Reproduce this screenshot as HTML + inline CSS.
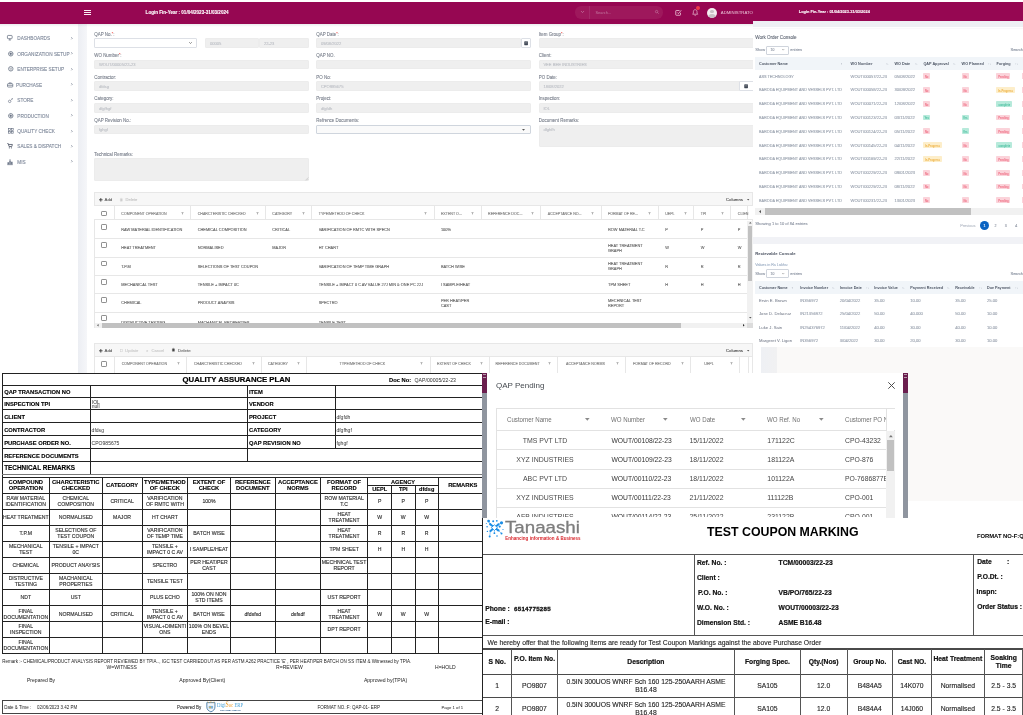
<!DOCTYPE html>
<html><head><meta charset="utf-8"><title>QAP</title><style>
html,body{margin:0;padding:0;background:#fff;}
body{width:1023px;height:715px;position:relative;overflow:hidden;font-family:"Liberation Sans",sans-serif;}
div{position:absolute;box-sizing:border-box;}
#root{left:0;top:0;width:1023px;height:715px;overflow:hidden;will-change:transform;}
.t{white-space:nowrap;}
svg{position:absolute;overflow:visible;}
</style></head><body>
<div id="root">
<div style="left:0px;top:0px;width:753px;height:373px;background:#fff;overflow:hidden;"></div>
<div style="left:0px;top:2px;width:753px;height:21.5px;background:#960752;"></div>
<div style="left:0px;top:23.5px;width:753px;height:3.5px;background:linear-gradient(rgba(60,70,90,0.10),rgba(60,70,90,0));z-index:2;"></div>
<div style="left:78px;top:23.5px;width:9px;height:350px;background:linear-gradient(90deg,#eceef3,#f5f6f9);"></div>
<div style="left:84px;top:10.2px;width:7px;height:0.9px;background:#fbeef4;"></div>
<div style="left:84px;top:12.299999999999999px;width:7px;height:0.9px;background:#fbeef4;"></div>
<div style="left:84px;top:14.399999999999999px;width:7px;height:0.9px;background:#fbeef4;"></div>
<div class="t" style="left:145.6px;top:9px;font-size:4.57px;line-height:8px;color:#fff;font-weight:bold;text-align:left;-webkit-text-stroke:0.1px #fff;">Login Fin-Year : 01/04/2023-31/03/2024</div>
<div style="left:574.8px;top:6.4px;width:88.5px;height:12.4px;background:#9e185c;border-radius:6.2px;"></div>
<div style="left:589.3px;top:6.4px;width:0.6px;height:12.4px;background:#a52a6a;"></div>
<div class="t" style="left:595.5px;top:9px;font-size:3.9px;line-height:8px;color:#c37aa1;font-weight:normal;text-align:left;-webkit-text-stroke:0">Search...</div>
<svg style="left:580.5px;top:11.3px" width="3" height="2" viewBox="0 0 3 2"><path d="M0 0L1.5 1.6L3 0" fill="none" stroke="#c98aad" stroke-width=".6"/></svg>
<svg style="left:654.5px;top:10.3px" width="4" height="4" viewBox="0 0 8 8"><circle cx="3.2" cy="3.2" r="2.4" fill="none" stroke="#c98aad" stroke-width="1"/><path d="M5 5L7.5 7.5" stroke="#c98aad" stroke-width="1"/></svg>
<svg style="left:674.5px;top:9px" width="7" height="7" viewBox="0 0 14 14"><path d="M11 7.5V11.5a1 1 0 0 1-1 1H2.5a1 1 0 0 1-1-1V4a1 1 0 0 1 1-1H9" fill="none" stroke="#e6bbd0" stroke-width="1.7"/><path d="M4.5 7l2.3 2.3L12.5 2.5" fill="none" stroke="#e6bbd0" stroke-width="1.7"/></svg>
<svg style="left:691.800px;top:9px" width="6.400" height="7.300" viewBox="0 0 14 16"><path d="M7 1.5c-2.6 0-4 2-4 4.5v3L1.5 11.5h11L11 9V6c0-2.5-1.4-4.5-4-4.500z" fill="none" stroke="#e6bbd0" stroke-width="1.6"/><path d="M5.5 13.5a1.6 1.6 0 0 0 3 0" fill="none" stroke="#e6bbd0" stroke-width="1.4"/></svg>
<div style="left:695.8px;top:6.2px;width:4px;height:4px;background:#ee3a48;border-radius:50%;"></div>
<div style="left:706.7px;top:7.6px;width:10.8px;height:10.8px;background:#f4eef1;border-radius:50%;overflow:hidden;"><div style="left:3.6px;top:2px;width:3.8px;height:3.8px;border-radius:50%;background:#c9c2c6"></div><div style="left:1.6px;top:6.3px;width:7.8px;height:7px;border-radius:50%;background:#c9c2c6"></div></div>
<div class="t" style="left:720.8px;top:9px;font-size:4.3px;line-height:8px;color:#e9c3d6;font-weight:normal;text-align:left;-webkit-text-stroke:0">ADMINISTRATOR</div>
<div class="t" style="left:17.3px;top:34px;font-size:4.7px;line-height:9px;color:#7d8799;font-weight:normal;text-align:left;-webkit-text-stroke:0.1px #7d8799;">DASHBOARDS</div>
<svg style="left:70.7px;top:37.00px" width="1.700" height="2.600" viewBox="0 0 2 3"><path d="M0.400 0.300L1.500 1.500L0.400 2.700" fill="none" stroke="#6f788a" stroke-width=".85"/></svg>
<svg style="left:7.3px;top:35.40px" width="5.60" height="5.60" viewBox="0 0 10 10"><rect x="0.8" y="0.8" width="8.4" height="5.8" rx="1.2" fill="none" stroke="#616b7e" stroke-width="1.3"/><path d="M3 9h4M5 6.600V9" stroke="#616b7e" stroke-width="1.2"/></svg>
<div class="t" style="left:17.3px;top:50px;font-size:4.7px;line-height:9px;color:#7d8799;font-weight:normal;text-align:left;-webkit-text-stroke:0.1px #7d8799;">ORGANIZATION SETUP</div>
<svg style="left:70.7px;top:52.30px" width="1.700" height="2.600" viewBox="0 0 2 3"><path d="M0.400 0.300L1.500 1.500L0.400 2.700" fill="none" stroke="#6f788a" stroke-width=".85"/></svg>
<svg style="left:7.5px;top:50.80px" width="5.60" height="5.60" viewBox="0 0 10 10"><circle cx="5" cy="5" r="4" fill="none" stroke="#616b7e" stroke-width="1.3"/><circle cx="5" cy="5" r="1.6" fill="#616b7e"/><path d="M5 1v8M1 5h8" stroke="#616b7e" stroke-width=".8"/></svg>
<div class="t" style="left:17.3px;top:65px;font-size:4.7px;line-height:9px;color:#7d8799;font-weight:normal;text-align:left;-webkit-text-stroke:0.1px #7d8799;">ENTERPRISE SETUP</div>
<svg style="left:70.7px;top:67.70px" width="1.700" height="2.600" viewBox="0 0 2 3"><path d="M0.400 0.300L1.500 1.500L0.400 2.700" fill="none" stroke="#6f788a" stroke-width=".85"/></svg>
<svg style="left:7.5px;top:66.20px" width="5.60" height="5.60" viewBox="0 0 10 10"><circle cx="5" cy="5" r="4" fill="none" stroke="#616b7e" stroke-width="1.3"/><path d="M2.500 4h5M3.500 6.500q1.500 1.200 3 0" fill="none" stroke="#616b7e" stroke-width="1"/></svg>
<div class="t" style="left:16px;top:81px;font-size:4.7px;line-height:9px;color:#7d8799;font-weight:normal;text-align:left;-webkit-text-stroke:0.1px #7d8799;">PURCHASE</div>
<svg style="left:70.7px;top:83.30px" width="1.700" height="2.600" viewBox="0 0 2 3"><path d="M0.400 0.300L1.500 1.500L0.400 2.700" fill="none" stroke="#6f788a" stroke-width=".85"/></svg>
<svg style="left:7.3px;top:81.70px" width="6.27" height="5.60" viewBox="0 0 11 10"><rect x="0.8" y="3" width="9.4" height="6" rx="1.2" fill="none" stroke="#616b7e" stroke-width="1.3"/><path d="M3.500 3V1.500h4V3M0.800 6h9.400" fill="none" stroke="#616b7e" stroke-width="1.1"/></svg>
<div class="t" style="left:17.3px;top:96px;font-size:4.7px;line-height:9px;color:#7d8799;font-weight:normal;text-align:left;-webkit-text-stroke:0.1px #7d8799;">STORE</div>
<svg style="left:70.7px;top:98.70px" width="1.700" height="2.600" viewBox="0 0 2 3"><path d="M0.400 0.300L1.500 1.500L0.400 2.700" fill="none" stroke="#6f788a" stroke-width=".85"/></svg>
<svg style="left:7.7px;top:97.50px" width="5.04" height="5.04" viewBox="0 0 9 9"><circle cx="3" cy="6" r="2.2" fill="none" stroke="#616b7e" stroke-width="1.1"/><path d="M5 4L8 1M6.500 1h1.500v1.500" fill="none" stroke="#616b7e" stroke-width="1"/></svg>
<div class="t" style="left:17.3px;top:112px;font-size:4.7px;line-height:9px;color:#7d8799;font-weight:normal;text-align:left;-webkit-text-stroke:0.1px #7d8799;">PRODUCTION</div>
<svg style="left:70.7px;top:114.30px" width="1.700" height="2.600" viewBox="0 0 2 3"><path d="M0.400 0.300L1.500 1.500L0.400 2.700" fill="none" stroke="#6f788a" stroke-width=".85"/></svg>
<svg style="left:7.5px;top:112.80px" width="5.60" height="5.60" viewBox="0 0 10 10"><circle cx="5" cy="5" r="4" fill="none" stroke="#616b7e" stroke-width="1.3"/><circle cx="5" cy="5" r="1.6" fill="#616b7e"/><path d="M5 1v8M1 5h8" stroke="#616b7e" stroke-width=".8"/></svg>
<div class="t" style="left:17.3px;top:127px;font-size:4.7px;line-height:9px;color:#7d8799;font-weight:normal;text-align:left;-webkit-text-stroke:0.1px #7d8799;">QUALITY CHECK</div>
<svg style="left:70.7px;top:129.90px" width="1.700" height="2.600" viewBox="0 0 2 3"><path d="M0.400 0.300L1.500 1.500L0.400 2.700" fill="none" stroke="#6f788a" stroke-width=".85"/></svg>
<svg style="left:7.5px;top:128.40px" width="5.60" height="5.60" viewBox="0 0 10 10"><rect x="0.7" y="0.7" width="3.4" height="3.4" fill="none" stroke="#616b7e" stroke-width="1.1"/><rect x="5.9" y="0.7" width="3.4" height="3.4" fill="none" stroke="#616b7e" stroke-width="1.1"/><rect x="0.7" y="5.9" width="3.4" height="3.400" fill="none" stroke="#616b7e" stroke-width="1.1"/><rect x="5.9" y="5.9" width="3.4" height="3.4" fill="none" stroke="#616b7e" stroke-width="1.1"/></svg>
<div class="t" style="left:17.3px;top:142px;font-size:4.7px;line-height:9px;color:#7d8799;font-weight:normal;text-align:left;-webkit-text-stroke:0.1px #7d8799;">SALES &amp; DISPATCH</div>
<svg style="left:70.7px;top:144.90px" width="1.700" height="2.600" viewBox="0 0 2 3"><path d="M0.400 0.300L1.500 1.500L0.400 2.700" fill="none" stroke="#6f788a" stroke-width=".85"/></svg>
<svg style="left:7.3px;top:143.30px" width="5.82" height="5.82" viewBox="0 0 10 10"><path d="M0.500 1h1.700l1.300 5h4.800l1-3.500H3" fill="none" stroke="#4d5566" stroke-width="1.4"/><circle cx="4" cy="8.300" r="1" fill="#4d5566"/><circle cx="7.500" cy="8.300" r="1" fill="#4d5566"/></svg>
<div class="t" style="left:17.3px;top:158px;font-size:4.7px;line-height:9px;color:#7d8799;font-weight:normal;text-align:left;-webkit-text-stroke:0.1px #7d8799;">MIS</div>
<svg style="left:70.7px;top:160.40px" width="1.700" height="2.600" viewBox="0 0 2 3"><path d="M0.400 0.300L1.500 1.500L0.400 2.700" fill="none" stroke="#6f788a" stroke-width=".85"/></svg>
<svg style="left:7.3px;top:158.60px" width="6.05" height="6.05" viewBox="0 0 10 10"><path d="M2 9V5.500M5 9V2.500M8 9V4.500" fill="none" stroke="#616b7e" stroke-width="2.300"/><path d="M5 0.300v2" stroke="#616b7e" stroke-width="1.200"/><path d="M0.500 9.400h9" stroke="#616b7e" stroke-width="1"/></svg>
<div class="t" style="left:94.3px;top:31px;font-size:4.45px;line-height:8px;color:#7b818d;font-weight:normal;text-align:left;-webkit-text-stroke:0.1px #7b818d;">QAP No.<span style="color:#ee3b34;font-size:3.6px;position:relative;top:-0.9px;-webkit-text-stroke:0.1px #ee3b34">*</span>:</div>
<div style="left:94.3px;top:38.1px;width:103px;height:9.6px;background:#fff;border:0.6px solid #dde0e6;border-radius:1px;"></div>
<svg style="left:188.8px;top:42.10px" width="3" height="2" viewBox="0 0 3 2"><path d="M0.2 0.2L1.5 1.5L2.8 0.2" fill="none" stroke="#444" stroke-width=".6"/></svg>
<div style="left:205.3px;top:38.1px;width:54px;height:9.6px;background:#efefef;border:0.5px solid #ececec;border-radius:1px;"></div>
<div class="t" style="left:209.9px;top:40px;font-size:4.1px;line-height:8px;color:#bcbfc5;font-weight:normal;text-align:left;-webkit-text-stroke:0.1px #bcbfc5;">00005</div>
<div style="left:259.3px;top:38.1px;width:49.5px;height:9.6px;background:#efefef;border:0.5px solid #ececec;border-radius:1px;"></div>
<div class="t" style="left:263.90000000000003px;top:40px;font-size:4.1px;line-height:8px;color:#bcbfc5;font-weight:normal;text-align:left;-webkit-text-stroke:0.1px #bcbfc5;">22-23</div>
<div class="t" style="left:316.3px;top:31px;font-size:4.45px;line-height:8px;color:#7b818d;font-weight:normal;text-align:left;-webkit-text-stroke:0.1px #7b818d;">QAP Date<span style="color:#ee3b34;font-size:3.6px;position:relative;top:-0.9px;-webkit-text-stroke:0.1px #ee3b34">*</span>:</div>
<div style="left:316.3px;top:38.1px;width:204.5px;height:9.6px;background:#efefef;border:0.5px solid #ececec;border-radius:1px;"></div>
<div class="t" style="left:320.90000000000003px;top:40px;font-size:4.1px;line-height:8px;color:#bcbfc5;font-weight:normal;text-align:left;-webkit-text-stroke:0.1px #bcbfc5;">09/08/2022</div>
<div style="left:520.8px;top:38.1px;width:10.5px;height:9.6px;background:#fff;border:0.6px solid #dde0e6;border-radius:1px;"></div>
<svg style="left:523.9px;top:40.7px" width="4.200" height="4.400" viewBox="0 0 9 9.5"><rect x="0.5" y="1.200" width="8" height="8" rx="1" fill="#3f4754"/><path d="M2.500 0v2.200M6.500 0v2.200" stroke="#3f4754" stroke-width="1.200"/><path d="M1.500 4h6" stroke="#fff" stroke-width=".7"/></svg>
<div class="t" style="left:538.8px;top:31px;font-size:4.45px;line-height:8px;color:#7b818d;font-weight:normal;text-align:left;-webkit-text-stroke:0.1px #7b818d;">Item Group<span style="color:#ee3b34;font-size:3.6px;position:relative;top:-0.9px;-webkit-text-stroke:0.1px #ee3b34">*</span>:</div>
<div style="left:538.8px;top:38.1px;width:222.5px;height:9.6px;background:#efefef;border:0.5px solid #ececec;border-radius:1px;"></div>
<div class="t" style="left:94.3px;top:52px;font-size:4.45px;line-height:8px;color:#7b818d;font-weight:normal;text-align:left;-webkit-text-stroke:0.1px #7b818d;">WO Number<span style="color:#ee3b34;font-size:3.6px;position:relative;top:-0.9px;-webkit-text-stroke:0.1px #ee3b34">*</span>:</div>
<div style="left:94.3px;top:59.8px;width:214.5px;height:9.6px;background:#efefef;border:0.5px solid #ececec;border-radius:1px;"></div>
<div class="t" style="left:98.89999999999999px;top:61px;font-size:4.1px;line-height:8px;color:#bcbfc5;font-weight:normal;text-align:left;-webkit-text-stroke:0.1px #bcbfc5;">WOUT/00005/22-23</div>
<div class="t" style="left:316.3px;top:52px;font-size:4.45px;line-height:8px;color:#7b818d;font-weight:normal;text-align:left;-webkit-text-stroke:0.1px #7b818d;">QAP NO.</div>
<div style="left:316.3px;top:59.8px;width:214.5px;height:9.6px;background:#efefef;border:0.5px solid #ececec;border-radius:1px;"></div>
<div class="t" style="left:538.8px;top:52px;font-size:4.45px;line-height:8px;color:#7b818d;font-weight:normal;text-align:left;-webkit-text-stroke:0.1px #7b818d;">Client:</div>
<div style="left:538.8px;top:59.8px;width:222.5px;height:9.6px;background:#efefef;border:0.5px solid #ececec;border-radius:1px;"></div>
<div class="t" style="left:543.4px;top:61px;font-size:4.1px;line-height:8px;color:#bcbfc5;font-weight:normal;text-align:left;-webkit-text-stroke:0.1px #bcbfc5;">VEE BEE INDUSTRIES</div>
<div class="t" style="left:94.3px;top:74px;font-size:4.45px;line-height:8px;color:#7b818d;font-weight:normal;text-align:left;-webkit-text-stroke:0.1px #7b818d;">Contractor:</div>
<div style="left:94.3px;top:81.4px;width:214.5px;height:9.6px;background:#efefef;border:0.5px solid #ececec;border-radius:1px;"></div>
<div class="t" style="left:98.89999999999999px;top:83px;font-size:4.1px;line-height:8px;color:#bcbfc5;font-weight:normal;text-align:left;-webkit-text-stroke:0.1px #bcbfc5;">dfdsg</div>
<div class="t" style="left:316.3px;top:74px;font-size:4.45px;line-height:8px;color:#7b818d;font-weight:normal;text-align:left;-webkit-text-stroke:0.1px #7b818d;">PO No:</div>
<div style="left:316.3px;top:81.4px;width:214.5px;height:9.6px;background:#efefef;border:0.5px solid #ececec;border-radius:1px;"></div>
<div class="t" style="left:320.90000000000003px;top:83px;font-size:4.1px;line-height:8px;color:#bcbfc5;font-weight:normal;text-align:left;-webkit-text-stroke:0.1px #bcbfc5;">CPO985675</div>
<div class="t" style="left:538.8px;top:74px;font-size:4.45px;line-height:8px;color:#7b818d;font-weight:normal;text-align:left;-webkit-text-stroke:0.1px #7b818d;">PO Date:</div>
<div style="left:538.8px;top:81.4px;width:222.5px;height:9.6px;background:#efefef;border:0.5px solid #ececec;border-radius:1px;"></div>
<div class="t" style="left:543.4px;top:83px;font-size:4.1px;line-height:8px;color:#bcbfc5;font-weight:normal;text-align:left;-webkit-text-stroke:0.1px #bcbfc5;">18/08/2022</div>
<div style="left:739.2px;top:81.4px;width:16px;height:9.6px;background:#fff;border:0.6px solid #dde0e6;border-radius:1px;"></div>
<svg style="left:744.3px;top:84.0px" width="4.200" height="4.400" viewBox="0 0 9 9.5"><rect x="0.5" y="1.200" width="8" height="8" rx="1" fill="#3f4754"/><path d="M2.500 0v2.200M6.500 0v2.200" stroke="#3f4754" stroke-width="1.200"/><path d="M1.500 4h6" stroke="#fff" stroke-width=".7"/></svg>
<div class="t" style="left:94.3px;top:95px;font-size:4.45px;line-height:8px;color:#7b818d;font-weight:normal;text-align:left;-webkit-text-stroke:0.1px #7b818d;">Category:</div>
<div style="left:94.3px;top:103px;width:214.5px;height:9.6px;background:#efefef;border:0.5px solid #ececec;border-radius:1px;"></div>
<div class="t" style="left:98.89999999999999px;top:105px;font-size:4.1px;line-height:8px;color:#bcbfc5;font-weight:normal;text-align:left;-webkit-text-stroke:0.1px #bcbfc5;">dfgfhgf</div>
<div class="t" style="left:316.3px;top:95px;font-size:4.45px;line-height:8px;color:#7b818d;font-weight:normal;text-align:left;-webkit-text-stroke:0.1px #7b818d;">Project:</div>
<div style="left:316.3px;top:103px;width:214.5px;height:9.6px;background:#efefef;border:0.5px solid #ececec;border-radius:1px;"></div>
<div class="t" style="left:320.90000000000003px;top:105px;font-size:4.1px;line-height:8px;color:#bcbfc5;font-weight:normal;text-align:left;-webkit-text-stroke:0.1px #bcbfc5;">dfgfdh</div>
<div class="t" style="left:538.8px;top:95px;font-size:4.45px;line-height:8px;color:#7b818d;font-weight:normal;text-align:left;-webkit-text-stroke:0.1px #7b818d;">Inspection:</div>
<div style="left:538.8px;top:103px;width:222.5px;height:9.6px;background:#efefef;border:0.5px solid #ececec;border-radius:1px;"></div>
<div class="t" style="left:543.4px;top:105px;font-size:4.1px;line-height:8px;color:#bcbfc5;font-weight:normal;text-align:left;-webkit-text-stroke:0.1px #bcbfc5;">IOL</div>
<div class="t" style="left:94.3px;top:117px;font-size:4.45px;line-height:8px;color:#7b818d;font-weight:normal;text-align:left;-webkit-text-stroke:0.1px #7b818d;">QAP Revision No.:</div>
<div style="left:94.3px;top:124.6px;width:214.5px;height:9.6px;background:#efefef;border:0.5px solid #ececec;border-radius:1px;"></div>
<div class="t" style="left:98.89999999999999px;top:126px;font-size:4.1px;line-height:8px;color:#bcbfc5;font-weight:normal;text-align:left;-webkit-text-stroke:0.1px #bcbfc5;">fghgf</div>
<div class="t" style="left:316.3px;top:117px;font-size:4.45px;line-height:8px;color:#7b818d;font-weight:normal;text-align:left;-webkit-text-stroke:0.1px #7b818d;">Refrence Documents:</div>
<div style="left:316.3px;top:124.6px;width:214.5px;height:9.6px;background:#fafafa;border:0.6px solid #cfd5dd;border-radius:1px;"></div>
<svg style="left:521.8px;top:128.70px" width="3" height="1.800" viewBox="0 0 3 1.8"><path d="M0 0h3L1.500 1.800z" fill="#555"/></svg>
<div class="t" style="left:538.8px;top:117px;font-size:4.45px;line-height:8px;color:#7b818d;font-weight:normal;text-align:left;-webkit-text-stroke:0.1px #7b818d;">Document Remarks:</div>
<div style="left:538.8px;top:124.6px;width:222.5px;height:22.2px;background:#efefef;border:0.5px solid #ececec;border-radius:1px;"></div>
<div class="t" style="left:543.4px;top:126px;font-size:4.1px;line-height:8px;color:#bcbfc5;font-weight:normal;text-align:left;-webkit-text-stroke:0.1px #bcbfc5;">dfghfh</div>
<div class="t" style="left:94.3px;top:151px;font-size:4.45px;line-height:8px;color:#7b818d;font-weight:normal;text-align:left;-webkit-text-stroke:0.1px #7b818d;">Technical Remarks:</div>
<div style="left:94.3px;top:158.2px;width:214.5px;height:22.5px;background:#efefef;border:0.5px solid #ececec;border-radius:1px;"></div>
<svg style="left:304.6px;top:176.500px" width="3.4" height="3.4" viewBox="0 0 4 4"><path d="M0.500 4L4 0.500M2.300 4L4 2.300" stroke="#aaa" stroke-width=".5"/></svg>
<div style="left:94.3px;top:192.3px;width:658.7px;height:136.2px;background:#fff;border:0.6px solid #e7e7e7;"></div>
<div style="left:94.3px;top:192.3px;width:658.7px;height:14px;background:#f7f7f7;border:0.6px solid #e7e7e7;"></div>
<svg style="left:98.600px;top:197.600px" width="3.6" height="3.600" viewBox="0 0 6 6"><path d="M3 0v6M0 3h6" stroke="#333" stroke-width="1.400"/></svg>
<div class="t" style="left:104.5px;top:196px;font-size:4.4px;line-height:8px;color:#3a3a3a;font-weight:normal;text-align:left;-webkit-text-stroke:0">Add</div>
<svg style="left:120px;top:197.700px" width="2.600" height="3.400" viewBox="0 0 5 7"><path d="M0.500 1.500h4v5h-4zM1.500 0.500h2" fill="#cfcfcf" stroke="#cfcfcf" stroke-width=".6"/></svg>
<div class="t" style="left:125.5px;top:196px;font-size:4.1px;line-height:8px;color:#c4c4c4;font-weight:normal;text-align:left;-webkit-text-stroke:0.1px #c4c4c4;">Delete</div>
<div class="t" style="left:726px;top:196px;font-size:4.3px;line-height:8px;color:#444;font-weight:normal;text-align:left;-webkit-text-stroke:0.1px #444;">Columns</div>
<svg style="left:746.500px;top:199px" width="2.400" height="1.500" viewBox="0 0 3 1.8"><path d="M0 0h3L1.500 1.800z" fill="#555"/></svg>
<div style="left:94.3px;top:206.3px;width:658.7px;height:14.199999999999989px;background:#fff;border-bottom:0.6px solid #e7e7e7;"></div>
<div style="left:113.9px;top:206.3px;width:0.6px;height:14.199999999999989px;background:#e7e7e7;"></div>
<div style="left:190.29999999999998px;top:206.3px;width:0.6px;height:14.199999999999989px;background:#e7e7e7;"></div>
<div style="left:264.9px;top:206.3px;width:0.6px;height:14.199999999999989px;background:#e7e7e7;"></div>
<div style="left:311.3px;top:206.3px;width:0.6px;height:14.199999999999989px;background:#e7e7e7;"></div>
<div style="left:433.5px;top:206.3px;width:0.6px;height:14.199999999999989px;background:#e7e7e7;"></div>
<div style="left:480.7px;top:206.3px;width:0.6px;height:14.199999999999989px;background:#e7e7e7;"></div>
<div style="left:540.4000000000001px;top:206.3px;width:0.6px;height:14.199999999999989px;background:#e7e7e7;"></div>
<div style="left:600.6px;top:206.3px;width:0.6px;height:14.199999999999989px;background:#e7e7e7;"></div>
<div style="left:657.8000000000001px;top:206.3px;width:0.6px;height:14.199999999999989px;background:#e7e7e7;"></div>
<div style="left:693.3000000000001px;top:206.3px;width:0.6px;height:14.199999999999989px;background:#e7e7e7;"></div>
<div style="left:730.4000000000001px;top:206.3px;width:0.6px;height:14.199999999999989px;background:#e7e7e7;"></div>
<div style="left:747.0px;top:206.3px;width:0.6px;height:14.199999999999989px;background:#e7e7e7;"></div>
<div style="left:101.2px;top:210.55px;width:5.9px;height:5.9px;border:0.7px solid #8f8f8f;border-radius:1.1px;background:#fff;"></div>
<div class="t" style="left:121.3px;top:211px;font-size:3.62px;line-height:7px;color:#7a7a7a;font-weight:normal;text-align:left;-webkit-text-stroke:0.1px #7a7a7a;">COMPONENT OPERATION</div>
<svg style="left:180.9px;top:212.10px" width="3" height="3" viewBox="0 0 6 6"><path d="M0.300 0.500h5.400L3.700 3v2.500L2.300 4.700V3z" fill="#a2a2a2"/></svg>
<div class="t" style="left:197.7px;top:211px;font-size:3.62px;line-height:7px;color:#7a7a7a;font-weight:normal;text-align:left;-webkit-text-stroke:0.1px #7a7a7a;">CHARCTERISTIC CHECKED</div>
<svg style="left:255.5px;top:212.10px" width="3" height="3" viewBox="0 0 6 6"><path d="M0.300 0.500h5.400L3.700 3v2.500L2.300 4.700V3z" fill="#a2a2a2"/></svg>
<div class="t" style="left:272.3px;top:211px;font-size:3.62px;line-height:7px;color:#7a7a7a;font-weight:normal;text-align:left;-webkit-text-stroke:0.1px #7a7a7a;">CATEGORY</div>
<svg style="left:301.90000000000003px;top:212.10px" width="3" height="3" viewBox="0 0 6 6"><path d="M0.300 0.500h5.400L3.700 3v2.500L2.300 4.700V3z" fill="#a2a2a2"/></svg>
<div class="t" style="left:318.70000000000005px;top:211px;font-size:3.62px;line-height:7px;color:#7a7a7a;font-weight:normal;text-align:left;-webkit-text-stroke:0.1px #7a7a7a;">TYPE/METHOD OF CHECK</div>
<svg style="left:424.1px;top:212.10px" width="3" height="3" viewBox="0 0 6 6"><path d="M0.300 0.500h5.400L3.700 3v2.500L2.300 4.700V3z" fill="#a2a2a2"/></svg>
<div class="t" style="left:440.90000000000003px;top:211px;font-size:3.62px;line-height:7px;color:#7a7a7a;font-weight:normal;text-align:left;-webkit-text-stroke:0.1px #7a7a7a;">EXTENT O...</div>
<svg style="left:471.3px;top:212.10px" width="3" height="3" viewBox="0 0 6 6"><path d="M0.300 0.500h5.400L3.700 3v2.500L2.300 4.700V3z" fill="#a2a2a2"/></svg>
<div class="t" style="left:488.1px;top:211px;font-size:3.62px;line-height:7px;color:#7a7a7a;font-weight:normal;text-align:left;-webkit-text-stroke:0.1px #7a7a7a;">REFERENCE DOC...</div>
<svg style="left:531.0px;top:212.10px" width="3" height="3" viewBox="0 0 6 6"><path d="M0.300 0.500h5.400L3.700 3v2.500L2.300 4.700V3z" fill="#a2a2a2"/></svg>
<div class="t" style="left:547.8000000000001px;top:211px;font-size:3.62px;line-height:7px;color:#7a7a7a;font-weight:normal;text-align:left;-webkit-text-stroke:0.1px #7a7a7a;">ACCEPTANCE NO...</div>
<svg style="left:591.1999999999999px;top:212.10px" width="3" height="3" viewBox="0 0 6 6"><path d="M0.300 0.500h5.400L3.700 3v2.500L2.300 4.700V3z" fill="#a2a2a2"/></svg>
<div class="t" style="left:608.0px;top:211px;font-size:3.62px;line-height:7px;color:#7a7a7a;font-weight:normal;text-align:left;-webkit-text-stroke:0.1px #7a7a7a;">FORMAT OF RE...</div>
<svg style="left:648.4px;top:212.10px" width="3" height="3" viewBox="0 0 6 6"><path d="M0.300 0.500h5.400L3.700 3v2.500L2.300 4.700V3z" fill="#a2a2a2"/></svg>
<div class="t" style="left:665.2px;top:211px;font-size:3.62px;line-height:7px;color:#7a7a7a;font-weight:normal;text-align:left;-webkit-text-stroke:0.1px #7a7a7a;">UEPL</div>
<svg style="left:683.9px;top:212.10px" width="3" height="3" viewBox="0 0 6 6"><path d="M0.300 0.500h5.400L3.700 3v2.500L2.300 4.700V3z" fill="#a2a2a2"/></svg>
<div class="t" style="left:700.7px;top:211px;font-size:3.62px;line-height:7px;color:#7a7a7a;font-weight:normal;text-align:left;-webkit-text-stroke:0.1px #7a7a7a;">TPI</div>
<svg style="left:721.0px;top:212.10px" width="3" height="3" viewBox="0 0 6 6"><path d="M0.300 0.500h5.400L3.700 3v2.500L2.300 4.700V3z" fill="#a2a2a2"/></svg>
<div class="t" style="left:737.8000000000001px;top:211px;font-size:3.62px;line-height:7px;color:#7a7a7a;font-weight:normal;text-align:left;-webkit-text-stroke:0.1px #7a7a7a;">CLIEN</div>
<div style="left:0;top:220px;width:747.3px;height:102.60000000000002px;overflow:hidden;">
<div style="left:94.3px;top:18.299999999999994px;width:653.0px;height:0.6px;background:#e7e7e7;"></div>
<div style="left:101.2px;top:4.05px;width:5.9px;height:5.9px;border:0.7px solid #8f8f8f;border-radius:1.1px;background:#fff;"></div>
<div class="t" style="left:121.3px;top:6px;font-size:3.92px;line-height:8px;color:#5f5f5f;font-weight:normal;text-align:left;-webkit-text-stroke:0.1px #5f5f5f;">RAW MATERIAL IDENTIFICATION</div>
<div class="t" style="left:197.7px;top:6px;font-size:3.92px;line-height:8px;color:#5f5f5f;font-weight:normal;text-align:left;-webkit-text-stroke:0.1px #5f5f5f;">CHEMICAL COMPOSITION</div>
<div class="t" style="left:272.3px;top:6px;font-size:3.92px;line-height:8px;color:#5f5f5f;font-weight:normal;text-align:left;-webkit-text-stroke:0.1px #5f5f5f;">CRITICAL</div>
<div style="left:318.70000000000005px;top:5px;width:114.09999999999997px;height:9px;overflow:hidden;">
<div class="t" style="left:0px;top:1px;font-size:3.92px;line-height:8px;color:#5f5f5f;font-weight:normal;text-align:left;-webkit-text-stroke:0.1px #5f5f5f;">VARIFICATION OF RMTC WITH SPECN</div>
</div>
<div class="t" style="left:440.90000000000003px;top:6px;font-size:3.92px;line-height:8px;color:#5f5f5f;font-weight:normal;text-align:left;-webkit-text-stroke:0.1px #5f5f5f;">100%</div>
<div class="t" style="left:608.0px;top:6px;font-size:3.92px;line-height:8px;color:#5f5f5f;font-weight:normal;text-align:left;-webkit-text-stroke:0.1px #5f5f5f;">ROW MATERIAL T.C</div>
<div class="t" style="left:665.2px;top:6px;font-size:3.92px;line-height:8px;color:#5f5f5f;font-weight:normal;text-align:left;-webkit-text-stroke:0.1px #5f5f5f;">P</div>
<div class="t" style="left:700.7px;top:6px;font-size:3.92px;line-height:8px;color:#5f5f5f;font-weight:normal;text-align:left;-webkit-text-stroke:0.1px #5f5f5f;">P</div>
<div class="t" style="left:737.8000000000001px;top:6px;font-size:3.92px;line-height:8px;color:#5f5f5f;font-weight:normal;text-align:left;-webkit-text-stroke:0.1px #5f5f5f;">P</div>
<div style="left:94.3px;top:36.7px;width:653.0px;height:0.6px;background:#e7e7e7;"></div>
<div style="left:101.2px;top:22.149999999999995px;width:5.9px;height:5.9px;border:0.7px solid #8f8f8f;border-radius:1.1px;background:#fff;"></div>
<div class="t" style="left:121.3px;top:24px;font-size:3.92px;line-height:8px;color:#5f5f5f;font-weight:normal;text-align:left;-webkit-text-stroke:0.1px #5f5f5f;">HEAT TREATMENT</div>
<div class="t" style="left:197.7px;top:24px;font-size:3.92px;line-height:8px;color:#5f5f5f;font-weight:normal;text-align:left;-webkit-text-stroke:0.1px #5f5f5f;">NORMALISED</div>
<div class="t" style="left:272.3px;top:24px;font-size:3.92px;line-height:8px;color:#5f5f5f;font-weight:normal;text-align:left;-webkit-text-stroke:0.1px #5f5f5f;">MAJOR</div>
<div style="left:318.70000000000005px;top:23px;width:114.09999999999997px;height:9px;overflow:hidden;">
<div class="t" style="left:0px;top:1px;font-size:3.92px;line-height:8px;color:#5f5f5f;font-weight:normal;text-align:left;-webkit-text-stroke:0.1px #5f5f5f;">HT CHART</div>
</div>
<div class="t" style="left:608.0px;top:22px;font-size:3.92px;line-height:8px;color:#5f5f5f;font-weight:normal;text-align:left;-webkit-text-stroke:0.1px #5f5f5f;">HEAT TREATMENT</div>
<div class="t" style="left:608.0px;top:27px;font-size:3.92px;line-height:8px;color:#5f5f5f;font-weight:normal;text-align:left;-webkit-text-stroke:0.1px #5f5f5f;">GRAPH</div>
<div class="t" style="left:665.2px;top:24px;font-size:3.92px;line-height:8px;color:#5f5f5f;font-weight:normal;text-align:left;-webkit-text-stroke:0.1px #5f5f5f;">W</div>
<div class="t" style="left:700.7px;top:24px;font-size:3.92px;line-height:8px;color:#5f5f5f;font-weight:normal;text-align:left;-webkit-text-stroke:0.1px #5f5f5f;">W</div>
<div class="t" style="left:737.8000000000001px;top:24px;font-size:3.92px;line-height:8px;color:#5f5f5f;font-weight:normal;text-align:left;-webkit-text-stroke:0.1px #5f5f5f;">W</div>
<div style="left:94.3px;top:55.000000000000014px;width:653.0px;height:0.6px;background:#e7e7e7;"></div>
<div style="left:101.2px;top:40.55px;width:5.9px;height:5.9px;border:0.7px solid #8f8f8f;border-radius:1.1px;background:#fff;"></div>
<div class="t" style="left:121.3px;top:43px;font-size:3.92px;line-height:8px;color:#5f5f5f;font-weight:normal;text-align:left;-webkit-text-stroke:0.1px #5f5f5f;">T.P.M</div>
<div class="t" style="left:197.7px;top:43px;font-size:3.92px;line-height:8px;color:#5f5f5f;font-weight:normal;text-align:left;-webkit-text-stroke:0.1px #5f5f5f;">SELECTIONS OF TEST COUPON</div>
<div style="left:318.70000000000005px;top:42px;width:114.09999999999997px;height:9px;overflow:hidden;">
<div class="t" style="left:0px;top:1px;font-size:3.92px;line-height:8px;color:#5f5f5f;font-weight:normal;text-align:left;-webkit-text-stroke:0.1px #5f5f5f;">VARIFICATION OF TEMP TIME GRAPH</div>
</div>
<div class="t" style="left:440.90000000000003px;top:43px;font-size:3.92px;line-height:8px;color:#5f5f5f;font-weight:normal;text-align:left;-webkit-text-stroke:0.1px #5f5f5f;">BATCH WISE</div>
<div class="t" style="left:608.0px;top:40px;font-size:3.92px;line-height:8px;color:#5f5f5f;font-weight:normal;text-align:left;-webkit-text-stroke:0.1px #5f5f5f;">HEAT TREATMENT</div>
<div class="t" style="left:608.0px;top:45px;font-size:3.92px;line-height:8px;color:#5f5f5f;font-weight:normal;text-align:left;-webkit-text-stroke:0.1px #5f5f5f;">GRAPH</div>
<div class="t" style="left:665.2px;top:43px;font-size:3.92px;line-height:8px;color:#5f5f5f;font-weight:normal;text-align:left;-webkit-text-stroke:0.1px #5f5f5f;">R</div>
<div class="t" style="left:700.7px;top:43px;font-size:3.92px;line-height:8px;color:#5f5f5f;font-weight:normal;text-align:left;-webkit-text-stroke:0.1px #5f5f5f;">R</div>
<div class="t" style="left:737.8000000000001px;top:43px;font-size:3.92px;line-height:8px;color:#5f5f5f;font-weight:normal;text-align:left;-webkit-text-stroke:0.1px #5f5f5f;">R</div>
<div style="left:94.3px;top:73.30000000000003px;width:653.0px;height:0.6px;background:#e7e7e7;"></div>
<div style="left:101.2px;top:58.85000000000001px;width:5.9px;height:5.9px;border:0.7px solid #8f8f8f;border-radius:1.1px;background:#fff;"></div>
<div class="t" style="left:121.3px;top:61px;font-size:3.92px;line-height:8px;color:#5f5f5f;font-weight:normal;text-align:left;-webkit-text-stroke:0.1px #5f5f5f;">MECHANICAL TEST</div>
<div class="t" style="left:197.7px;top:61px;font-size:3.92px;line-height:8px;color:#5f5f5f;font-weight:normal;text-align:left;-webkit-text-stroke:0.1px #5f5f5f;">TENSILE + IMPACT 0C</div>
<div style="left:318.70000000000005px;top:60px;width:114.09999999999997px;height:9px;overflow:hidden;">
<div class="t" style="left:0px;top:1px;font-size:3.92px;line-height:8px;color:#5f5f5f;font-weight:normal;text-align:left;-webkit-text-stroke:0.1px #5f5f5f;">TENSILE + IMPACT 0 C AV VALUE 27J MIN &amp; ONE PC 22J</div>
</div>
<div class="t" style="left:440.90000000000003px;top:61px;font-size:3.92px;line-height:8px;color:#5f5f5f;font-weight:normal;text-align:left;-webkit-text-stroke:0.1px #5f5f5f;">I SAMPLE/HEAT</div>
<div class="t" style="left:608.0px;top:61px;font-size:3.92px;line-height:8px;color:#5f5f5f;font-weight:normal;text-align:left;-webkit-text-stroke:0.1px #5f5f5f;">TPM SHEET</div>
<div class="t" style="left:665.2px;top:61px;font-size:3.92px;line-height:8px;color:#5f5f5f;font-weight:normal;text-align:left;-webkit-text-stroke:0.1px #5f5f5f;">H</div>
<div class="t" style="left:700.7px;top:61px;font-size:3.92px;line-height:8px;color:#5f5f5f;font-weight:normal;text-align:left;-webkit-text-stroke:0.1px #5f5f5f;">H</div>
<div class="t" style="left:737.8000000000001px;top:61px;font-size:3.92px;line-height:8px;color:#5f5f5f;font-weight:normal;text-align:left;-webkit-text-stroke:0.1px #5f5f5f;">H</div>
<div style="left:94.3px;top:91.59999999999998px;width:653.0px;height:0.6px;background:#e7e7e7;"></div>
<div style="left:101.2px;top:77.15000000000002px;width:5.9px;height:5.9px;border:0.7px solid #8f8f8f;border-radius:1.1px;background:#fff;"></div>
<div class="t" style="left:121.3px;top:79px;font-size:3.92px;line-height:8px;color:#5f5f5f;font-weight:normal;text-align:left;-webkit-text-stroke:0.1px #5f5f5f;">CHEMICAL</div>
<div class="t" style="left:197.7px;top:79px;font-size:3.92px;line-height:8px;color:#5f5f5f;font-weight:normal;text-align:left;-webkit-text-stroke:0.1px #5f5f5f;">PRODUCT ANAYSIS</div>
<div style="left:318.70000000000005px;top:78px;width:114.09999999999997px;height:9px;overflow:hidden;">
<div class="t" style="left:0px;top:1px;font-size:3.92px;line-height:8px;color:#5f5f5f;font-weight:normal;text-align:left;-webkit-text-stroke:0.1px #5f5f5f;">SPECTRO</div>
</div>
<div class="t" style="left:440.90000000000003px;top:77px;font-size:3.92px;line-height:8px;color:#5f5f5f;font-weight:normal;text-align:left;-webkit-text-stroke:0.1px #5f5f5f;">PER HEAT/PER</div>
<div class="t" style="left:440.90000000000003px;top:82px;font-size:3.92px;line-height:8px;color:#5f5f5f;font-weight:normal;text-align:left;-webkit-text-stroke:0.1px #5f5f5f;">CAST</div>
<div class="t" style="left:608.0px;top:77px;font-size:3.92px;line-height:8px;color:#5f5f5f;font-weight:normal;text-align:left;-webkit-text-stroke:0.1px #5f5f5f;">MECHNICAL TEST</div>
<div class="t" style="left:608.0px;top:82px;font-size:3.92px;line-height:8px;color:#5f5f5f;font-weight:normal;text-align:left;-webkit-text-stroke:0.1px #5f5f5f;">REPORT</div>
<div style="left:94.3px;top:112.09999999999998px;width:653.0px;height:0.6px;background:#e7e7e7;"></div>
<div style="left:101.2px;top:95.44999999999997px;width:5.9px;height:5.9px;border:0.7px solid #8f8f8f;border-radius:1.1px;background:#fff;"></div>
<div class="t" style="left:121.3px;top:99px;font-size:3.92px;line-height:8px;color:#5f5f5f;font-weight:normal;text-align:left;-webkit-text-stroke:0.1px #5f5f5f;">DISTRUCTIVE TESTING</div>
<div class="t" style="left:197.7px;top:99px;font-size:3.92px;line-height:8px;color:#5f5f5f;font-weight:normal;text-align:left;-webkit-text-stroke:0.1px #5f5f5f;">MACHANICAL PROPERTIES</div>
<div style="left:318.70000000000005px;top:98px;width:114.09999999999997px;height:9px;overflow:hidden;">
<div class="t" style="left:0px;top:1px;font-size:3.92px;line-height:8px;color:#5f5f5f;font-weight:normal;text-align:left;-webkit-text-stroke:0.1px #5f5f5f;">TENSILE TEST</div>
</div>
</div>
<div style="left:747.3px;top:220.5px;width:5.4px;height:102.1px;background:#f1f1f1;"></div>
<div style="left:748px;top:225.8px;width:4px;height:55px;background:#c1c1c1;"></div>
<svg style="left:748.600px;top:221.800px" width="2.600" height="1.500" viewBox="0 0 3 1.8"><path d="M0 1.800h3L1.500 0z" fill="#555"/></svg>
<svg style="left:748.600px;top:317px" width="2.600" height="1.500" viewBox="0 0 3 1.8"><path d="M0 0h3L1.500 1.800z" fill="#555"/></svg>
<div style="left:94.89999999999999px;top:322.6px;width:657.5px;height:5.6px;background:#f1f1f1;"></div>
<div style="left:101.5px;top:323px;width:579px;height:4.8px;background:#c1c1c1;"></div>
<svg style="left:97px;top:324.100px" width="1.600" height="2.600" viewBox="0 0 1.8 3"><path d="M1.800 0v3L0 1.500z" fill="#555"/></svg>
<svg style="left:742.500px;top:324.100px" width="1.600" height="2.600" viewBox="0 0 1.8 3"><path d="M0 0v3L1.800 1.500z" fill="#222"/></svg>
<div style="left:747.3px;top:322.6px;width:5.4px;height:5.6px;background:#dcdcdc;"></div>
<div style="left:94.3px;top:343.2px;width:658.7px;height:40px;background:#fff;border:0.6px solid #e7e7e7;"></div>
<div style="left:94.3px;top:343.2px;width:658.7px;height:14px;background:#f7f7f7;border:0.6px solid #e7e7e7;"></div>
<svg style="left:98.600px;top:348.500px" width="3.600" height="3.600" viewBox="0 0 6 6"><path d="M3 0v6M0 3h6" stroke="#333" stroke-width="1.400"/></svg>
<div class="t" style="left:104.5px;top:347px;font-size:4.4px;line-height:8px;color:#3a3a3a;font-weight:normal;text-align:left;-webkit-text-stroke:0">Add</div>
<div class="t" style="left:125px;top:347px;font-size:4.1px;line-height:8px;color:#c9c9c9;font-weight:normal;text-align:left;-webkit-text-stroke:0.1px #c9c9c9;">Update</div>
<svg style="left:119.500px;top:348.800px" width="3" height="3.200" viewBox="0 0 5 5"><rect x="0.500" y="0.500" width="4" height="4" fill="none" stroke="#cfcfcf" stroke-width=".8"/></svg>
<div class="t" style="left:146px;top:348px;font-size:3.4px;line-height:7px;color:#c9c9c9;font-weight:normal;text-align:left;-webkit-text-stroke:0.1px #c9c9c9;">✕</div>
<div class="t" style="left:151.5px;top:347px;font-size:4.1px;line-height:8px;color:#c9c9c9;font-weight:normal;text-align:left;-webkit-text-stroke:0.1px #c9c9c9;">Cancel</div>
<svg style="left:172.300px;top:348.400px" width="2.800" height="3.600" viewBox="0 0 5 7"><path d="M0.500 1.500h4v5h-4zM1.500 0.500h2" fill="#444" stroke="#444" stroke-width=".6"/></svg>
<div class="t" style="left:178px;top:347px;font-size:4.4px;line-height:8px;color:#3a3a3a;font-weight:normal;text-align:left;-webkit-text-stroke:0">Delete</div>
<div class="t" style="left:726px;top:347px;font-size:4.3px;line-height:8px;color:#444;font-weight:normal;text-align:left;-webkit-text-stroke:0.1px #444;">Columns</div>
<svg style="left:746.500px;top:349.900px" width="2.400" height="1.500" viewBox="0 0 3 1.8"><path d="M0 0h3L1.500 1.800z" fill="#555"/></svg>
<div style="left:113.60000000000001px;top:357.2px;width:0.6px;height:15.400000000000034px;background:#e7e7e7;"></div>
<div style="left:186.2px;top:357.2px;width:0.6px;height:15.400000000000034px;background:#e7e7e7;"></div>
<div style="left:260.8px;top:357.2px;width:0.6px;height:15.400000000000034px;background:#e7e7e7;"></div>
<div style="left:306.2px;top:357.2px;width:0.6px;height:15.400000000000034px;background:#e7e7e7;"></div>
<div style="left:429.59999999999997px;top:357.2px;width:0.6px;height:15.400000000000034px;background:#e7e7e7;"></div>
<div style="left:489.4px;top:357.2px;width:0.6px;height:15.400000000000034px;background:#e7e7e7;"></div>
<div style="left:557.0px;top:357.2px;width:0.6px;height:15.400000000000034px;background:#e7e7e7;"></div>
<div style="left:624.9000000000001px;top:357.2px;width:0.6px;height:15.400000000000034px;background:#e7e7e7;"></div>
<div style="left:690.0px;top:357.2px;width:0.6px;height:15.400000000000034px;background:#e7e7e7;"></div>
<div style="left:739.2px;top:357.2px;width:0.6px;height:15.400000000000034px;background:#e7e7e7;"></div>
<div style="left:748.0px;top:357.2px;width:0.6px;height:15.400000000000034px;background:#e7e7e7;"></div>
<div style="left:101.2px;top:360.65000000000003px;width:5.9px;height:5.9px;border:0.7px solid #8f8f8f;border-radius:1.1px;background:#fff;"></div>
<div class="t" style="left:113.9px;top:361px;width:60.89999999999999px;font-size:3.62px;line-height:7px;color:#7a7a7a;font-weight:normal;text-align:center;-webkit-text-stroke:0.1px #7a7a7a;">COMPONENT OPERATION</div>
<svg style="left:176.9px;top:362.20px" width="3" height="3" viewBox="0 0 6 6"><path d="M0.300 0.500h5.400L3.700 3v2.500L2.300 4.700V3z" fill="#a2a2a2"/></svg>
<div class="t" style="left:186.5px;top:361px;width:62.90000000000002px;font-size:3.62px;line-height:7px;color:#7a7a7a;font-weight:normal;text-align:center;-webkit-text-stroke:0.1px #7a7a7a;">CHARCTERISTIC CHECKED</div>
<svg style="left:251.50000000000003px;top:362.20px" width="3" height="3" viewBox="0 0 6 6"><path d="M0.300 0.500h5.400L3.700 3v2.500L2.300 4.700V3z" fill="#a2a2a2"/></svg>
<div class="t" style="left:261.1px;top:361px;width:33.699999999999974px;font-size:3.62px;line-height:7px;color:#7a7a7a;font-weight:normal;text-align:center;-webkit-text-stroke:0.1px #7a7a7a;">CATEGORY</div>
<svg style="left:296.9px;top:362.20px" width="3" height="3" viewBox="0 0 6 6"><path d="M0.300 0.500h5.400L3.700 3v2.500L2.300 4.700V3z" fill="#a2a2a2"/></svg>
<div class="t" style="left:306.5px;top:361px;width:111.69999999999997px;font-size:3.62px;line-height:7px;color:#7a7a7a;font-weight:normal;text-align:center;-webkit-text-stroke:0.1px #7a7a7a;">TYPE/METHOD OF CHECK</div>
<svg style="left:420.29999999999995px;top:362.20px" width="3" height="3" viewBox="0 0 6 6"><path d="M0.300 0.500h5.400L3.700 3v2.500L2.300 4.700V3z" fill="#a2a2a2"/></svg>
<div class="t" style="left:429.9px;top:361px;width:48.10000000000001px;font-size:3.62px;line-height:7px;color:#7a7a7a;font-weight:normal;text-align:center;-webkit-text-stroke:0.1px #7a7a7a;">EXTENT OF CHECK</div>
<svg style="left:480.09999999999997px;top:362.20px" width="3" height="3" viewBox="0 0 6 6"><path d="M0.300 0.500h5.400L3.700 3v2.500L2.300 4.700V3z" fill="#a2a2a2"/></svg>
<div class="t" style="left:489.7px;top:361px;width:55.89999999999996px;font-size:3.62px;line-height:7px;color:#7a7a7a;font-weight:normal;text-align:center;-webkit-text-stroke:0.1px #7a7a7a;">REFERENCE DOCUMENT</div>
<svg style="left:547.6999999999999px;top:362.20px" width="3" height="3" viewBox="0 0 6 6"><path d="M0.300 0.500h5.400L3.700 3v2.500L2.300 4.700V3z" fill="#a2a2a2"/></svg>
<div class="t" style="left:557.3px;top:361px;width:56.20000000000009px;font-size:3.62px;line-height:7px;color:#7a7a7a;font-weight:normal;text-align:center;-webkit-text-stroke:0.1px #7a7a7a;">ACCEPTANCE NORMS</div>
<svg style="left:615.6px;top:362.20px" width="3" height="3" viewBox="0 0 6 6"><path d="M0.300 0.500h5.400L3.700 3v2.500L2.300 4.700V3z" fill="#a2a2a2"/></svg>
<div class="t" style="left:625.2px;top:361px;width:53.399999999999906px;font-size:3.62px;line-height:7px;color:#7a7a7a;font-weight:normal;text-align:center;-webkit-text-stroke:0.1px #7a7a7a;">FORMAT OF RECORD</div>
<svg style="left:680.6999999999999px;top:362.20px" width="3" height="3" viewBox="0 0 6 6"><path d="M0.300 0.500h5.400L3.700 3v2.500L2.300 4.700V3z" fill="#a2a2a2"/></svg>
<div class="t" style="left:690.3px;top:361px;width:37.50000000000004px;font-size:3.62px;line-height:7px;color:#7a7a7a;font-weight:normal;text-align:center;-webkit-text-stroke:0.1px #7a7a7a;">UEPL</div>
<svg style="left:729.9px;top:362.20px" width="3" height="3" viewBox="0 0 6 6"><path d="M0.300 0.500h5.400L3.700 3v2.500L2.300 4.700V3z" fill="#a2a2a2"/></svg>
<div style="left:753.1px;top:0px;width:269.9px;height:347.4px;background:#fff;overflow:hidden;"></div>
<div style="left:753.1px;top:1.7px;width:269.9px;height:19.2px;background:#960752;"></div>
<div class="t" style="left:798.8px;top:8px;font-size:3.91px;line-height:8px;color:#fff;font-weight:bold;text-align:left;-webkit-text-stroke:0.1px #fff;">Login Fin-Year : 01/04/2023-31/03/2024</div>
<div style="left:753.1px;top:20.9px;width:269.9px;height:6.6px;background:#eef0f4;"></div>
<div style="left:753.1px;top:27.5px;width:269.9px;height:1px;background:linear-gradient(#f4f5f8,#fff);"></div>
<div class="t" style="left:755.2px;top:34px;font-size:4.55px;line-height:8px;color:#555c6a;font-weight:normal;text-align:left;-webkit-text-stroke:0.06px #555c6a">Work Order Console</div>
<div class="t" style="left:755.3px;top:46px;font-size:3.95px;line-height:8px;color:#8a92a0;font-weight:normal;text-align:left;-webkit-text-stroke:0.1px #8a92a0;">Show</div>
<div style="left:766px;top:46.2px;width:22.6px;height:8.399999999999999px;background:#fff;border:0.5px solid #cfd4dc;border-radius:1px;"></div>
<div class="t" style="left:770.6px;top:47px;font-size:3.4px;line-height:7px;color:#8a92a0;font-weight:normal;text-align:left;-webkit-text-stroke:0.1px #8a92a0;">10</div>
<svg style="left:781.500px;top:49.20px" width="2.400" height="1.500" viewBox="0 0 3 2"><path d="M0.200 0.200L1.500 1.500L2.800 0.200" fill="none" stroke="#555" stroke-width=".6"/></svg>
<div class="t" style="left:790.2px;top:46px;font-size:3.95px;line-height:8px;color:#8a92a0;font-weight:normal;text-align:left;-webkit-text-stroke:0.1px #8a92a0;">entries</div>
<div class="t" style="left:1010.5px;top:46px;font-size:3.95px;line-height:8px;color:#8a92a0;font-weight:normal;text-align:left;-webkit-text-stroke:0.1px #8a92a0;">Search:</div>
<div style="left:755.2px;top:56.7px;width:267.79999999999995px;height:13px;background:#f1f5f9;"></div>
<div class="t" style="left:759px;top:61px;font-size:3.78px;line-height:7px;color:#4f5766;font-weight:bold;text-align:left;-webkit-text-stroke:0">Customer Name</div>
<div class="t" style="left:850.6px;top:61px;font-size:3.78px;line-height:7px;color:#4f5766;font-weight:bold;text-align:left;-webkit-text-stroke:0">WO Number</div>
<div class="t" style="left:894.5px;top:61px;font-size:3.78px;line-height:7px;color:#4f5766;font-weight:bold;text-align:left;-webkit-text-stroke:0">WO Date</div>
<div class="t" style="left:923.4px;top:61px;font-size:3.78px;line-height:7px;color:#4f5766;font-weight:bold;text-align:left;-webkit-text-stroke:0">QAP Approval</div>
<div class="t" style="left:961.6px;top:61px;font-size:3.78px;line-height:7px;color:#4f5766;font-weight:bold;text-align:left;-webkit-text-stroke:0">WO Planned</div>
<div class="t" style="left:996.6px;top:61px;font-size:3.78px;line-height:7px;color:#4f5766;font-weight:bold;text-align:left;-webkit-text-stroke:0">Forging</div>
<div class="t" style="left:840.6px;top:61px;font-size:3.6px;line-height:7px;color:#6b7280;font-weight:normal;text-align:left;-webkit-text-stroke:0">↑</div>
<div class="t" style="left:885.5px;top:61px;font-size:3.6px;line-height:7px;color:#b4bac4;font-weight:normal;text-align:left;-webkit-text-stroke:0">↑</div>
<div class="t" style="left:886.9px;top:61px;font-size:3.6px;line-height:7px;color:#b4bac4;font-weight:normal;text-align:left;-webkit-text-stroke:0">↓</div>
<div class="t" style="left:914.5px;top:61px;font-size:3.6px;line-height:7px;color:#b4bac4;font-weight:normal;text-align:left;-webkit-text-stroke:0">↑</div>
<div class="t" style="left:915.9px;top:61px;font-size:3.6px;line-height:7px;color:#b4bac4;font-weight:normal;text-align:left;-webkit-text-stroke:0">↓</div>
<div class="t" style="left:952.5px;top:61px;font-size:3.6px;line-height:7px;color:#b4bac4;font-weight:normal;text-align:left;-webkit-text-stroke:0">↑</div>
<div class="t" style="left:953.9px;top:61px;font-size:3.6px;line-height:7px;color:#b4bac4;font-weight:normal;text-align:left;-webkit-text-stroke:0">↓</div>
<div class="t" style="left:988px;top:61px;font-size:3.6px;line-height:7px;color:#b4bac4;font-weight:normal;text-align:left;-webkit-text-stroke:0">↑</div>
<div class="t" style="left:989.4px;top:61px;font-size:3.6px;line-height:7px;color:#b4bac4;font-weight:normal;text-align:left;-webkit-text-stroke:0">↓</div>
<div class="t" style="left:1015px;top:61px;font-size:3.6px;line-height:7px;color:#b4bac4;font-weight:normal;text-align:left;-webkit-text-stroke:0">↑</div>
<div class="t" style="left:1016.4px;top:61px;font-size:3.6px;line-height:7px;color:#b4bac4;font-weight:normal;text-align:left;-webkit-text-stroke:0">↓</div>
<div class="t" style="left:759px;top:74px;font-size:3.78px;line-height:7px;color:#98a0ad;font-weight:normal;text-align:left;-webkit-text-stroke:0.1px #98a0ad;">ASS TECHNOLOGY</div>
<div class="t" style="left:850.6px;top:73px;font-size:4.08px;line-height:8px;color:#98a0ad;font-weight:normal;text-align:left;-webkit-text-stroke:0.1px #98a0ad;">WOUT/00057/22-23</div>
<div class="t" style="left:894.5px;top:73px;font-size:4.1px;line-height:8px;color:#98a0ad;font-weight:normal;text-align:left;-webkit-text-stroke:0.1px #98a0ad;">05/08/2022</div>
<div style="left:923.3px;top:73.19999999999999px;width:6.8px;height:5.8px;background:#fbd3da;border-radius:.8px;"></div>
<div class="t" style="left:923.3px;top:75px;width:6.8px;font-size:2.7px;line-height:6px;color:#ee6a80;font-weight:bold;text-align:center;-webkit-text-stroke:0">No</div>
<div style="left:961.8px;top:73.19999999999999px;width:6.8px;height:5.8px;background:#fbd3da;border-radius:.8px;"></div>
<div class="t" style="left:961.8px;top:75px;width:6.8px;font-size:2.7px;line-height:6px;color:#ee6a80;font-weight:bold;text-align:center;-webkit-text-stroke:0">No</div>
<div style="left:996.4px;top:73.19999999999999px;width:14.1px;height:5.8px;background:#fbd3da;border-radius:.8px;"></div>
<div class="t" style="left:996.4px;top:75px;width:14.1px;font-size:2.7px;line-height:6px;color:#ee6a80;font-weight:bold;text-align:center;-webkit-text-stroke:0">Pending</div>
<div style="left:1022.2px;top:73.19999999999999px;width:1px;height:5.8px;background:#fbd3da;"></div>
<div class="t" style="left:759px;top:87px;font-size:3.78px;line-height:7px;color:#98a0ad;font-weight:normal;text-align:left;-webkit-text-stroke:0.1px #98a0ad;">BARODA EQUIPMENT AND VESSELS PVT. LTD</div>
<div class="t" style="left:850.6px;top:86px;font-size:4.08px;line-height:8px;color:#98a0ad;font-weight:normal;text-align:left;-webkit-text-stroke:0.1px #98a0ad;">WOUT/00058/22-23</div>
<div class="t" style="left:894.5px;top:86px;font-size:4.1px;line-height:8px;color:#98a0ad;font-weight:normal;text-align:left;-webkit-text-stroke:0.1px #98a0ad;">30/09/2022</div>
<div style="left:923.3px;top:86.99999999999999px;width:6.8px;height:5.8px;background:#fbd3da;border-radius:.8px;"></div>
<div class="t" style="left:923.3px;top:89px;width:6.8px;font-size:2.7px;line-height:6px;color:#ee6a80;font-weight:bold;text-align:center;-webkit-text-stroke:0">No</div>
<div style="left:961.8px;top:86.99999999999999px;width:6.8px;height:5.8px;background:#fbd3da;border-radius:.8px;"></div>
<div class="t" style="left:961.8px;top:89px;width:6.8px;font-size:2.7px;line-height:6px;color:#ee6a80;font-weight:bold;text-align:center;-webkit-text-stroke:0">No</div>
<div style="left:996.4px;top:86.99999999999999px;width:18.4px;height:5.8px;background:#fdeeca;border-radius:.8px;"></div>
<div class="t" style="left:996.4px;top:89px;width:18.4px;font-size:2.7px;line-height:6px;color:#eeb040;font-weight:bold;text-align:center;-webkit-text-stroke:0">In-Progress</div>
<div style="left:1022.2px;top:86.99999999999999px;width:1px;height:5.8px;background:#fbd3da;"></div>
<div class="t" style="left:759px;top:101px;font-size:3.78px;line-height:7px;color:#98a0ad;font-weight:normal;text-align:left;-webkit-text-stroke:0.1px #98a0ad;">BARODA EQUIPMENT AND VESSELS PVT. LTD</div>
<div class="t" style="left:850.6px;top:100px;font-size:4.08px;line-height:8px;color:#98a0ad;font-weight:normal;text-align:left;-webkit-text-stroke:0.1px #98a0ad;">WOUT/00071/22-23</div>
<div class="t" style="left:894.5px;top:100px;font-size:4.1px;line-height:8px;color:#98a0ad;font-weight:normal;text-align:left;-webkit-text-stroke:0.1px #98a0ad;">12/08/2022</div>
<div style="left:923.3px;top:100.79999999999998px;width:6.8px;height:5.8px;background:#fbd3da;border-radius:.8px;"></div>
<div class="t" style="left:923.3px;top:103px;width:6.8px;font-size:2.7px;line-height:6px;color:#ee6a80;font-weight:bold;text-align:center;-webkit-text-stroke:0">No</div>
<div style="left:961.8px;top:100.79999999999998px;width:6.8px;height:5.8px;background:#fbd3da;border-radius:.8px;"></div>
<div class="t" style="left:961.8px;top:103px;width:6.8px;font-size:2.7px;line-height:6px;color:#ee6a80;font-weight:bold;text-align:center;-webkit-text-stroke:0">No</div>
<div style="left:996.4px;top:100.79999999999998px;width:15.9px;height:5.8px;background:#b7eadb;border-radius:.8px;"></div>
<div class="t" style="left:996.4px;top:103px;width:15.9px;font-size:2.7px;line-height:6px;color:#45bd9d;font-weight:bold;text-align:center;-webkit-text-stroke:0">complete</div>
<div style="left:1022.2px;top:100.79999999999998px;width:1px;height:5.8px;background:#fbd3da;"></div>
<div class="t" style="left:759px;top:115px;font-size:3.78px;line-height:7px;color:#98a0ad;font-weight:normal;text-align:left;-webkit-text-stroke:0.1px #98a0ad;">BARODA EQUIPMENT AND VESSELS PVT. LTD</div>
<div class="t" style="left:850.6px;top:114px;font-size:4.08px;line-height:8px;color:#98a0ad;font-weight:normal;text-align:left;-webkit-text-stroke:0.1px #98a0ad;">WOUT/00123/22-23</div>
<div class="t" style="left:894.5px;top:114px;font-size:4.1px;line-height:8px;color:#98a0ad;font-weight:normal;text-align:left;-webkit-text-stroke:0.1px #98a0ad;">03/11/2022</div>
<div style="left:923.3px;top:114.6px;width:6.8px;height:5.8px;background:#b7eadb;border-radius:.8px;"></div>
<div class="t" style="left:923.3px;top:116px;width:6.8px;font-size:2.7px;line-height:6px;color:#45bd9d;font-weight:bold;text-align:center;-webkit-text-stroke:0">Yes</div>
<div style="left:961.8px;top:114.6px;width:6.8px;height:5.8px;background:#b7eadb;border-radius:.8px;"></div>
<div class="t" style="left:961.8px;top:116px;width:6.8px;font-size:2.7px;line-height:6px;color:#45bd9d;font-weight:bold;text-align:center;-webkit-text-stroke:0">Yes</div>
<div style="left:996.4px;top:114.6px;width:14.1px;height:5.8px;background:#fbd3da;border-radius:.8px;"></div>
<div class="t" style="left:996.4px;top:116px;width:14.1px;font-size:2.7px;line-height:6px;color:#ee6a80;font-weight:bold;text-align:center;-webkit-text-stroke:0">Pending</div>
<div style="left:1022.2px;top:114.6px;width:1px;height:5.8px;background:#fbd3da;"></div>
<div class="t" style="left:759px;top:129px;font-size:3.78px;line-height:7px;color:#98a0ad;font-weight:normal;text-align:left;-webkit-text-stroke:0.1px #98a0ad;">BARODA EQUIPMENT AND VESSELS PVT. LTD</div>
<div class="t" style="left:850.6px;top:128px;font-size:4.08px;line-height:8px;color:#98a0ad;font-weight:normal;text-align:left;-webkit-text-stroke:0.1px #98a0ad;">WOUT/00124/22-23</div>
<div class="t" style="left:894.5px;top:128px;font-size:4.1px;line-height:8px;color:#98a0ad;font-weight:normal;text-align:left;-webkit-text-stroke:0.1px #98a0ad;">05/11/2022</div>
<div style="left:923.3px;top:128.4px;width:6.8px;height:5.8px;background:#fbd3da;border-radius:.8px;"></div>
<div class="t" style="left:923.3px;top:130px;width:6.8px;font-size:2.7px;line-height:6px;color:#ee6a80;font-weight:bold;text-align:center;-webkit-text-stroke:0">No</div>
<div style="left:961.8px;top:128.4px;width:6.8px;height:5.8px;background:#b7eadb;border-radius:.8px;"></div>
<div class="t" style="left:961.8px;top:130px;width:6.8px;font-size:2.7px;line-height:6px;color:#45bd9d;font-weight:bold;text-align:center;-webkit-text-stroke:0">Yes</div>
<div style="left:996.4px;top:128.4px;width:14.1px;height:5.8px;background:#fbd3da;border-radius:.8px;"></div>
<div class="t" style="left:996.4px;top:130px;width:14.1px;font-size:2.7px;line-height:6px;color:#ee6a80;font-weight:bold;text-align:center;-webkit-text-stroke:0">Pending</div>
<div style="left:1022.2px;top:128.4px;width:1px;height:5.8px;background:#fbd3da;"></div>
<div class="t" style="left:759px;top:143px;font-size:3.78px;line-height:7px;color:#98a0ad;font-weight:normal;text-align:left;-webkit-text-stroke:0.1px #98a0ad;">BARODA EQUIPMENT AND VESSELS PVT. LTD</div>
<div class="t" style="left:850.6px;top:142px;font-size:4.08px;line-height:8px;color:#98a0ad;font-weight:normal;text-align:left;-webkit-text-stroke:0.1px #98a0ad;">WOUT/00145/22-23</div>
<div class="t" style="left:894.5px;top:142px;font-size:4.1px;line-height:8px;color:#98a0ad;font-weight:normal;text-align:left;-webkit-text-stroke:0.1px #98a0ad;">04/11/2022</div>
<div style="left:923.3px;top:142.2px;width:18.4px;height:5.8px;background:#fdeeca;border-radius:.8px;"></div>
<div class="t" style="left:923.3px;top:144px;width:18.4px;font-size:2.7px;line-height:6px;color:#eeb040;font-weight:bold;text-align:center;-webkit-text-stroke:0">In-Progress</div>
<div style="left:961.8px;top:142.2px;width:6.8px;height:5.8px;background:#fbd3da;border-radius:.8px;"></div>
<div class="t" style="left:961.8px;top:144px;width:6.8px;font-size:2.7px;line-height:6px;color:#ee6a80;font-weight:bold;text-align:center;-webkit-text-stroke:0">No</div>
<div style="left:996.4px;top:142.2px;width:15.9px;height:5.8px;background:#b7eadb;border-radius:.8px;"></div>
<div class="t" style="left:996.4px;top:144px;width:15.9px;font-size:2.7px;line-height:6px;color:#45bd9d;font-weight:bold;text-align:center;-webkit-text-stroke:0">complete</div>
<div style="left:1022.2px;top:142.2px;width:1px;height:5.8px;background:#fbd3da;"></div>
<div class="t" style="left:759px;top:156px;font-size:3.78px;line-height:7px;color:#98a0ad;font-weight:normal;text-align:left;-webkit-text-stroke:0.1px #98a0ad;">BARODA EQUIPMENT AND VESSELS PVT. LTD</div>
<div class="t" style="left:850.6px;top:155px;font-size:4.08px;line-height:8px;color:#98a0ad;font-weight:normal;text-align:left;-webkit-text-stroke:0.1px #98a0ad;">WOUT/00169/22-23</div>
<div class="t" style="left:894.5px;top:155px;font-size:4.1px;line-height:8px;color:#98a0ad;font-weight:normal;text-align:left;-webkit-text-stroke:0.1px #98a0ad;">22/11/2022</div>
<div style="left:923.3px;top:156.0px;width:18.4px;height:5.8px;background:#fdeeca;border-radius:.8px;"></div>
<div class="t" style="left:923.3px;top:158px;width:18.4px;font-size:2.7px;line-height:6px;color:#eeb040;font-weight:bold;text-align:center;-webkit-text-stroke:0">In-Progress</div>
<div style="left:961.8px;top:156.0px;width:6.8px;height:5.8px;background:#fbd3da;border-radius:.8px;"></div>
<div class="t" style="left:961.8px;top:158px;width:6.8px;font-size:2.7px;line-height:6px;color:#ee6a80;font-weight:bold;text-align:center;-webkit-text-stroke:0">No</div>
<div style="left:996.4px;top:156.0px;width:14.1px;height:5.8px;background:#fbd3da;border-radius:.8px;"></div>
<div class="t" style="left:996.4px;top:158px;width:14.1px;font-size:2.7px;line-height:6px;color:#ee6a80;font-weight:bold;text-align:center;-webkit-text-stroke:0">Pending</div>
<div style="left:1022.2px;top:156.0px;width:1px;height:5.8px;background:#fbd3da;"></div>
<div class="t" style="left:759px;top:170px;font-size:3.78px;line-height:7px;color:#98a0ad;font-weight:normal;text-align:left;-webkit-text-stroke:0.1px #98a0ad;">BARODA EQUIPMENT AND VESSELS PVT. LTD</div>
<div class="t" style="left:850.6px;top:169px;font-size:4.08px;line-height:8px;color:#98a0ad;font-weight:normal;text-align:left;-webkit-text-stroke:0.1px #98a0ad;">WOUT/00229/22-23</div>
<div class="t" style="left:894.5px;top:169px;font-size:4.1px;line-height:8px;color:#98a0ad;font-weight:normal;text-align:left;-webkit-text-stroke:0.1px #98a0ad;">09/01/2023</div>
<div style="left:923.3px;top:169.79999999999998px;width:6.8px;height:5.8px;background:#fbd3da;border-radius:.8px;"></div>
<div class="t" style="left:923.3px;top:172px;width:6.8px;font-size:2.7px;line-height:6px;color:#ee6a80;font-weight:bold;text-align:center;-webkit-text-stroke:0">No</div>
<div style="left:961.8px;top:169.79999999999998px;width:6.8px;height:5.8px;background:#fbd3da;border-radius:.8px;"></div>
<div class="t" style="left:961.8px;top:172px;width:6.8px;font-size:2.7px;line-height:6px;color:#ee6a80;font-weight:bold;text-align:center;-webkit-text-stroke:0">No</div>
<div style="left:996.4px;top:169.79999999999998px;width:14.1px;height:5.8px;background:#fbd3da;border-radius:.8px;"></div>
<div class="t" style="left:996.4px;top:172px;width:14.1px;font-size:2.7px;line-height:6px;color:#ee6a80;font-weight:bold;text-align:center;-webkit-text-stroke:0">Pending</div>
<div style="left:1022.2px;top:169.79999999999998px;width:1px;height:5.8px;background:#fbd3da;"></div>
<div class="t" style="left:759px;top:184px;font-size:3.78px;line-height:7px;color:#98a0ad;font-weight:normal;text-align:left;-webkit-text-stroke:0.1px #98a0ad;">BARODA EQUIPMENT AND VESSELS PVT. LTD</div>
<div class="t" style="left:850.6px;top:183px;font-size:4.08px;line-height:8px;color:#98a0ad;font-weight:normal;text-align:left;-webkit-text-stroke:0.1px #98a0ad;">WOUT/00229/22-23</div>
<div class="t" style="left:894.5px;top:183px;font-size:4.1px;line-height:8px;color:#98a0ad;font-weight:normal;text-align:left;-webkit-text-stroke:0.1px #98a0ad;">08/11/2022</div>
<div style="left:923.3px;top:183.6px;width:6.8px;height:5.8px;background:#fbd3da;border-radius:.8px;"></div>
<div class="t" style="left:923.3px;top:185px;width:6.8px;font-size:2.7px;line-height:6px;color:#ee6a80;font-weight:bold;text-align:center;-webkit-text-stroke:0">No</div>
<div style="left:961.8px;top:183.6px;width:6.8px;height:5.8px;background:#fbd3da;border-radius:.8px;"></div>
<div class="t" style="left:961.8px;top:185px;width:6.8px;font-size:2.7px;line-height:6px;color:#ee6a80;font-weight:bold;text-align:center;-webkit-text-stroke:0">No</div>
<div style="left:996.4px;top:183.6px;width:14.1px;height:5.8px;background:#fbd3da;border-radius:.8px;"></div>
<div class="t" style="left:996.4px;top:185px;width:14.1px;font-size:2.7px;line-height:6px;color:#ee6a80;font-weight:bold;text-align:center;-webkit-text-stroke:0">Pending</div>
<div style="left:1022.2px;top:183.6px;width:1px;height:5.8px;background:#fbd3da;"></div>
<div class="t" style="left:759px;top:198px;font-size:3.78px;line-height:7px;color:#98a0ad;font-weight:normal;text-align:left;-webkit-text-stroke:0.1px #98a0ad;">BARODA EQUIPMENT AND VESSELS PVT. LTD</div>
<div class="t" style="left:850.6px;top:197px;font-size:4.08px;line-height:8px;color:#98a0ad;font-weight:normal;text-align:left;-webkit-text-stroke:0.1px #98a0ad;">WOUT/00231/22-23</div>
<div class="t" style="left:894.5px;top:197px;font-size:4.1px;line-height:8px;color:#98a0ad;font-weight:normal;text-align:left;-webkit-text-stroke:0.1px #98a0ad;">13/01/2023</div>
<div style="left:923.3px;top:197.4px;width:6.8px;height:5.8px;background:#fbd3da;border-radius:.8px;"></div>
<div class="t" style="left:923.3px;top:199px;width:6.8px;font-size:2.7px;line-height:6px;color:#ee6a80;font-weight:bold;text-align:center;-webkit-text-stroke:0">No</div>
<div style="left:961.8px;top:197.4px;width:6.8px;height:5.8px;background:#fbd3da;border-radius:.8px;"></div>
<div class="t" style="left:961.8px;top:199px;width:6.8px;font-size:2.7px;line-height:6px;color:#ee6a80;font-weight:bold;text-align:center;-webkit-text-stroke:0">No</div>
<div style="left:996.4px;top:197.4px;width:14.1px;height:5.8px;background:#fbd3da;border-radius:.8px;"></div>
<div class="t" style="left:996.4px;top:199px;width:14.1px;font-size:2.7px;line-height:6px;color:#ee6a80;font-weight:bold;text-align:center;-webkit-text-stroke:0">Pending</div>
<div style="left:1022.2px;top:197.4px;width:1px;height:5.8px;background:#fbd3da;"></div>
<div style="left:755.2px;top:207.8px;width:267.79999999999995px;height:7.6px;background:#f1f1f1;"></div>
<div style="left:765px;top:208.3px;width:206px;height:6.6px;background:#c1c1c1;"></div>
<svg style="left:759px;top:210px" width="2" height="3.200" viewBox="0 0 2 3.200"><path d="M2 0v3.200L0 1.600z" fill="#555"/></svg>
<div class="t" style="left:755.3px;top:220px;font-size:4.04px;line-height:8px;color:#8a92a0;font-weight:normal;text-align:left;-webkit-text-stroke:0.1px #8a92a0;">Showing 1 to 10 of 84 entries</div>
<div class="t" style="left:960.2px;top:222px;font-size:3.93px;line-height:8px;color:#b5bbc6;font-weight:normal;text-align:left;-webkit-text-stroke:0.1px #b5bbc6;">Previous</div>
<div style="left:979.8px;top:220.5px;width:9.4px;height:9.4px;background:#0a63c2;border-radius:50%;"></div>
<div class="t" style="left:979.8px;top:223px;width:9.4px;font-size:3.6px;line-height:7px;color:#fff;font-weight:normal;text-align:center;-webkit-text-stroke:0.1px #fff;">1</div>
<div class="t" style="left:990.4px;top:223px;width:10px;font-size:3.6px;line-height:7px;color:#8a92a0;font-weight:normal;text-align:center;-webkit-text-stroke:0.1px #8a92a0;">2</div>
<div class="t" style="left:1000.8px;top:223px;width:10px;font-size:3.6px;line-height:7px;color:#8a92a0;font-weight:normal;text-align:center;-webkit-text-stroke:0.1px #8a92a0;">3</div>
<div class="t" style="left:1011.3px;top:223px;width:10px;font-size:3.6px;line-height:7px;color:#8a92a0;font-weight:normal;text-align:center;-webkit-text-stroke:0.1px #8a92a0;">4</div>
<div style="left:753.1px;top:237.4px;width:269.9px;height:6.2px;background:#f1f2f6;"></div>
<div class="t" style="left:755.2px;top:250px;font-size:4.29px;line-height:8px;color:#4a5160;font-weight:bold;text-align:left;-webkit-text-stroke:0">Recievable Console</div>
<div class="t" style="left:755.2px;top:262px;font-size:3.72px;line-height:7px;color:#9fb0c6;font-weight:normal;text-align:left;-webkit-text-stroke:0.1px #9fb0c6;">Values in Rs Lakhs:</div>
<div class="t" style="left:755.3px;top:270px;font-size:3.95px;line-height:8px;color:#8a92a0;font-weight:normal;text-align:left;-webkit-text-stroke:0.1px #8a92a0;">Show</div>
<div style="left:766px;top:269.2px;width:22.6px;height:8.800000000000011px;background:#fff;border:0.5px solid #cfd4dc;border-radius:1px;"></div>
<div class="t" style="left:770.6px;top:271px;font-size:3.4px;line-height:7px;color:#8a92a0;font-weight:normal;text-align:left;-webkit-text-stroke:0.1px #8a92a0;">10</div>
<svg style="left:781.500px;top:272.80px" width="2.400" height="1.500" viewBox="0 0 3 2"><path d="M0.200 0.200L1.500 1.500L2.800 0.200" fill="none" stroke="#555" stroke-width=".6"/></svg>
<div class="t" style="left:790.2px;top:270px;font-size:3.95px;line-height:8px;color:#8a92a0;font-weight:normal;text-align:left;-webkit-text-stroke:0.1px #8a92a0;">entries</div>
<div class="t" style="left:1010.5px;top:270px;font-size:3.95px;line-height:8px;color:#8a92a0;font-weight:normal;text-align:left;-webkit-text-stroke:0.1px #8a92a0;">Search:</div>
<div style="left:755.2px;top:281px;width:267.79999999999995px;height:13px;background:#f1f5f9;"></div>
<div class="t" style="left:759px;top:285px;font-size:3.72px;line-height:7px;color:#4f5766;font-weight:bold;text-align:left;-webkit-text-stroke:0">Customer Name</div>
<div class="t" style="left:800.2px;top:285px;font-size:3.72px;line-height:7px;color:#4f5766;font-weight:bold;text-align:left;-webkit-text-stroke:0">Invoice Number</div>
<div class="t" style="left:839.8px;top:285px;font-size:3.72px;line-height:7px;color:#4f5766;font-weight:bold;text-align:left;-webkit-text-stroke:0">Invoice Date</div>
<div class="t" style="left:874.2px;top:285px;font-size:3.72px;line-height:7px;color:#4f5766;font-weight:bold;text-align:left;-webkit-text-stroke:0">Invoice Value</div>
<div class="t" style="left:910.3px;top:285px;font-size:3.72px;line-height:7px;color:#4f5766;font-weight:bold;text-align:left;-webkit-text-stroke:0">Payment Received</div>
<div class="t" style="left:955.2px;top:285px;font-size:3.72px;line-height:7px;color:#4f5766;font-weight:bold;text-align:left;-webkit-text-stroke:0">Receivable</div>
<div class="t" style="left:987px;top:285px;font-size:3.72px;line-height:7px;color:#4f5766;font-weight:bold;text-align:left;-webkit-text-stroke:0">Due Payment</div>
<div class="t" style="left:791.2px;top:285px;font-size:3.6px;line-height:7px;color:#6b7280;font-weight:normal;text-align:left;-webkit-text-stroke:0">↑</div>
<div class="t" style="left:831.5px;top:285px;font-size:3.6px;line-height:7px;color:#b4bac4;font-weight:normal;text-align:left;-webkit-text-stroke:0">↑</div>
<div class="t" style="left:832.9px;top:285px;font-size:3.6px;line-height:7px;color:#b4bac4;font-weight:normal;text-align:left;-webkit-text-stroke:0">↓</div>
<div class="t" style="left:866px;top:285px;font-size:3.6px;line-height:7px;color:#b4bac4;font-weight:normal;text-align:left;-webkit-text-stroke:0">↑</div>
<div class="t" style="left:867.4px;top:285px;font-size:3.6px;line-height:7px;color:#b4bac4;font-weight:normal;text-align:left;-webkit-text-stroke:0">↓</div>
<div class="t" style="left:901.5px;top:285px;font-size:3.6px;line-height:7px;color:#b4bac4;font-weight:normal;text-align:left;-webkit-text-stroke:0">↑</div>
<div class="t" style="left:902.9px;top:285px;font-size:3.6px;line-height:7px;color:#b4bac4;font-weight:normal;text-align:left;-webkit-text-stroke:0">↓</div>
<div class="t" style="left:946.5px;top:285px;font-size:3.6px;line-height:7px;color:#b4bac4;font-weight:normal;text-align:left;-webkit-text-stroke:0">↑</div>
<div class="t" style="left:947.9px;top:285px;font-size:3.6px;line-height:7px;color:#b4bac4;font-weight:normal;text-align:left;-webkit-text-stroke:0">↓</div>
<div class="t" style="left:979px;top:285px;font-size:3.6px;line-height:7px;color:#b4bac4;font-weight:normal;text-align:left;-webkit-text-stroke:0">↑</div>
<div class="t" style="left:980.4px;top:285px;font-size:3.6px;line-height:7px;color:#b4bac4;font-weight:normal;text-align:left;-webkit-text-stroke:0">↓</div>
<div class="t" style="left:1015px;top:285px;font-size:3.6px;line-height:7px;color:#b4bac4;font-weight:normal;text-align:left;-webkit-text-stroke:0">↑</div>
<div class="t" style="left:1016.4px;top:285px;font-size:3.6px;line-height:7px;color:#b4bac4;font-weight:normal;text-align:left;-webkit-text-stroke:0">↓</div>
<div class="t" style="left:759px;top:297px;font-size:4.22px;line-height:8px;color:#6a7180;font-weight:normal;text-align:left;-webkit-text-stroke:0">Ervin E. Brown</div>
<div class="t" style="left:800.2px;top:297px;font-size:4.12px;line-height:8px;color:#98a0ad;font-weight:normal;text-align:left;-webkit-text-stroke:0.1px #98a0ad;">IN356972</div>
<div class="t" style="left:839.8px;top:297px;font-size:4.12px;line-height:8px;color:#98a0ad;font-weight:normal;text-align:left;-webkit-text-stroke:0.1px #98a0ad;">20/04/2022</div>
<div class="t" style="left:874.2px;top:297px;font-size:4.12px;line-height:8px;color:#98a0ad;font-weight:normal;text-align:left;-webkit-text-stroke:0.1px #98a0ad;">35.00</div>
<div class="t" style="left:910.3px;top:297px;font-size:4.12px;line-height:8px;color:#98a0ad;font-weight:normal;text-align:left;-webkit-text-stroke:0.1px #98a0ad;">10.00</div>
<div class="t" style="left:955.2px;top:297px;font-size:4.12px;line-height:8px;color:#98a0ad;font-weight:normal;text-align:left;-webkit-text-stroke:0.1px #98a0ad;">35.00</div>
<div class="t" style="left:987px;top:297px;font-size:4.12px;line-height:8px;color:#98a0ad;font-weight:normal;text-align:left;-webkit-text-stroke:0.1px #98a0ad;">25.00</div>
<div class="t" style="left:759px;top:310px;font-size:4.22px;line-height:8px;color:#6a7180;font-weight:normal;text-align:left;-webkit-text-stroke:0">Jose D. Delacruz</div>
<div class="t" style="left:800.2px;top:310px;font-size:4.12px;line-height:8px;color:#98a0ad;font-weight:normal;text-align:left;-webkit-text-stroke:0.1px #98a0ad;">IN21356972</div>
<div class="t" style="left:839.8px;top:310px;font-size:4.12px;line-height:8px;color:#98a0ad;font-weight:normal;text-align:left;-webkit-text-stroke:0.1px #98a0ad;">25/04/2022</div>
<div class="t" style="left:874.2px;top:310px;font-size:4.12px;line-height:8px;color:#98a0ad;font-weight:normal;text-align:left;-webkit-text-stroke:0.1px #98a0ad;">50.00</div>
<div class="t" style="left:910.3px;top:310px;font-size:4.12px;line-height:8px;color:#98a0ad;font-weight:normal;text-align:left;-webkit-text-stroke:0.1px #98a0ad;">40.000</div>
<div class="t" style="left:955.2px;top:310px;font-size:4.12px;line-height:8px;color:#98a0ad;font-weight:normal;text-align:left;-webkit-text-stroke:0.1px #98a0ad;">50.00</div>
<div class="t" style="left:987px;top:310px;font-size:4.12px;line-height:8px;color:#98a0ad;font-weight:normal;text-align:left;-webkit-text-stroke:0.1px #98a0ad;">10.00</div>
<div class="t" style="left:759px;top:324px;font-size:4.22px;line-height:8px;color:#6a7180;font-weight:normal;text-align:left;-webkit-text-stroke:0">Luke J. Sain</div>
<div class="t" style="left:800.2px;top:324px;font-size:4.12px;line-height:8px;color:#98a0ad;font-weight:normal;text-align:left;-webkit-text-stroke:0.1px #98a0ad;">IN254376972</div>
<div class="t" style="left:839.8px;top:324px;font-size:4.12px;line-height:8px;color:#98a0ad;font-weight:normal;text-align:left;-webkit-text-stroke:0.1px #98a0ad;">11/04/2022</div>
<div class="t" style="left:874.2px;top:324px;font-size:4.12px;line-height:8px;color:#98a0ad;font-weight:normal;text-align:left;-webkit-text-stroke:0.1px #98a0ad;">40.00</div>
<div class="t" style="left:910.3px;top:324px;font-size:4.12px;line-height:8px;color:#98a0ad;font-weight:normal;text-align:left;-webkit-text-stroke:0.1px #98a0ad;">30.00</div>
<div class="t" style="left:955.2px;top:324px;font-size:4.12px;line-height:8px;color:#98a0ad;font-weight:normal;text-align:left;-webkit-text-stroke:0.1px #98a0ad;">40.00</div>
<div class="t" style="left:987px;top:324px;font-size:4.12px;line-height:8px;color:#98a0ad;font-weight:normal;text-align:left;-webkit-text-stroke:0.1px #98a0ad;">10.00</div>
<div class="t" style="left:759px;top:337px;font-size:4.22px;line-height:8px;color:#6a7180;font-weight:normal;text-align:left;-webkit-text-stroke:0">Margeret V. Ligon</div>
<div class="t" style="left:800.2px;top:337px;font-size:4.12px;line-height:8px;color:#98a0ad;font-weight:normal;text-align:left;-webkit-text-stroke:0.1px #98a0ad;">IN356972</div>
<div class="t" style="left:839.8px;top:337px;font-size:4.12px;line-height:8px;color:#98a0ad;font-weight:normal;text-align:left;-webkit-text-stroke:0.1px #98a0ad;">3/04/2022</div>
<div class="t" style="left:874.2px;top:337px;font-size:4.12px;line-height:8px;color:#98a0ad;font-weight:normal;text-align:left;-webkit-text-stroke:0.1px #98a0ad;">30.00</div>
<div class="t" style="left:910.3px;top:337px;font-size:4.12px;line-height:8px;color:#98a0ad;font-weight:normal;text-align:left;-webkit-text-stroke:0.1px #98a0ad;">20,00</div>
<div class="t" style="left:955.2px;top:337px;font-size:4.12px;line-height:8px;color:#98a0ad;font-weight:normal;text-align:left;-webkit-text-stroke:0.1px #98a0ad;">30.00</div>
<div class="t" style="left:987px;top:337px;font-size:4.12px;line-height:8px;color:#98a0ad;font-weight:normal;text-align:left;-webkit-text-stroke:0.1px #98a0ad;">10.00</div>
<div style="left:755.2px;top:346.6px;width:267.79999999999995px;height:0.8px;background:#e3eef6;"></div>
<div style="left:753.1px;top:347.4px;width:269.9px;height:154px;background:#faf9f8;"></div>
<div style="left:753.1px;top:347.4px;width:8.3px;height:25.4px;background:#fff;"></div>
<div style="left:761.4px;top:347.4px;width:15.6px;height:25.4px;background:linear-gradient(90deg,#eef0f4,#f1f1f2);"></div>
<div style="left:753.1px;top:501.4px;width:269.9px;height:16px;background:#fff;"></div>
<div style="left:0px;top:372.6px;width:483px;height:342.4px;background:#fff;"></div>
<div style="left:2px;top:372.8px;width:480.2px;height:1px;background:#222;"></div>
<div style="left:1.5px;top:373.3px;width:1px;height:279.99999999999994px;background:#222;"></div>
<div style="left:481.7px;top:373.3px;width:1px;height:341.7px;background:#222;"></div>
<div class="t" style="left:0px;top:373px;width:473px;font-size:7.74px;line-height:13px;color:#000;font-weight:bold;text-align:center;-webkit-text-stroke:0.2px #000;">QUALITY ASSURANCE PLAN</div>
<div class="t" style="left:389px;top:375px;font-size:5.79px;line-height:10px;color:#000;font-weight:bold;text-align:left;-webkit-text-stroke:0.12px #000">Doc No:</div>
<div class="t" style="left:414.6px;top:376px;font-size:5.16px;line-height:9px;color:#333;font-weight:normal;text-align:left;-webkit-text-stroke:0">QAP/00005/22-23</div>
<div style="left:2px;top:385.45px;width:480.2px;height:0.9px;background:#222;"></div>
<div style="left:2px;top:396.75px;width:480.2px;height:0.9px;background:#222;"></div>
<div style="left:2px;top:409.35px;width:480.2px;height:0.9px;background:#222;"></div>
<div style="left:2px;top:422.45px;width:480.2px;height:0.9px;background:#222;"></div>
<div style="left:2px;top:435.25px;width:480.2px;height:0.9px;background:#222;"></div>
<div style="left:2px;top:448.35px;width:480.2px;height:0.9px;background:#222;"></div>
<div style="left:2px;top:461.45px;width:480.2px;height:0.9px;background:#222;"></div>
<div style="left:2px;top:473.5px;width:480.2px;height:0.6px;background:#777;"></div>
<div style="left:89.8px;top:385.9px;width:0.8px;height:88.30000000000001px;background:#222;"></div>
<div style="left:246.6px;top:385.9px;width:0.8px;height:76.0px;background:#222;"></div>
<div style="left:334.8px;top:385.9px;width:0.8px;height:62.900000000000034px;background:#222;"></div>
<div class="t" style="left:4.2px;top:387px;font-size:5.78px;line-height:10px;color:#000;font-weight:bold;text-align:left;-webkit-text-stroke:0.12px #000">QAP TRANSACTION NO</div>
<div class="t" style="left:4.2px;top:399px;font-size:5.78px;line-height:10px;color:#000;font-weight:bold;text-align:left;-webkit-text-stroke:0.12px #000">INSPECTION TPI</div>
<div class="t" style="left:4.2px;top:412px;font-size:5.78px;line-height:10px;color:#000;font-weight:bold;text-align:left;-webkit-text-stroke:0.12px #000">CLIENT</div>
<div class="t" style="left:4.2px;top:425px;font-size:5.78px;line-height:10px;color:#000;font-weight:bold;text-align:left;-webkit-text-stroke:0.12px #000">CONTRACTOR</div>
<div class="t" style="left:91.6px;top:426px;font-size:5.05px;line-height:9px;color:#333;font-weight:normal;text-align:left;-webkit-text-stroke:0">dfdsg</div>
<div class="t" style="left:4.2px;top:438px;font-size:5.78px;line-height:10px;color:#000;font-weight:bold;text-align:left;-webkit-text-stroke:0.12px #000">PURCHASE ORDER NO.</div>
<div class="t" style="left:91.6px;top:439px;font-size:5.05px;line-height:9px;color:#333;font-weight:normal;text-align:left;-webkit-text-stroke:0">CPO985675</div>
<div class="t" style="left:4.2px;top:451px;font-size:5.78px;line-height:10px;color:#000;font-weight:bold;text-align:left;-webkit-text-stroke:0.12px #000">REFERENCE DOCUMENTS</div>
<div class="t" style="left:4.2px;top:462px;font-size:6.4px;line-height:11px;color:#000;font-weight:bold;text-align:left;-webkit-text-stroke:0.12px #000">TECHNICAL REMARKS</div>
<div class="t" style="left:91.8px;top:398px;font-size:5.0px;line-height:9px;color:#333;font-weight:normal;text-align:left;-webkit-text-stroke:0">IOL</div>
<div class="t" style="left:91.8px;top:402px;font-size:5.0px;line-height:9px;color:#333;font-weight:normal;text-align:left;-webkit-text-stroke:0">null</div>
<div class="t" style="left:249px;top:387px;font-size:5.78px;line-height:10px;color:#000;font-weight:bold;text-align:left;-webkit-text-stroke:0.12px #000">ITEM</div>
<div class="t" style="left:249px;top:399px;font-size:5.78px;line-height:10px;color:#000;font-weight:bold;text-align:left;-webkit-text-stroke:0.12px #000">VENDOR</div>
<div class="t" style="left:249px;top:412px;font-size:5.78px;line-height:10px;color:#000;font-weight:bold;text-align:left;-webkit-text-stroke:0.12px #000">PROJECT</div>
<div class="t" style="left:336.4px;top:413px;font-size:5.05px;line-height:9px;color:#333;font-weight:normal;text-align:left;-webkit-text-stroke:0">dfgfdh</div>
<div class="t" style="left:249px;top:425px;font-size:5.78px;line-height:10px;color:#000;font-weight:bold;text-align:left;-webkit-text-stroke:0.12px #000">CATEGORY</div>
<div class="t" style="left:336.4px;top:426px;font-size:5.05px;line-height:9px;color:#333;font-weight:normal;text-align:left;-webkit-text-stroke:0">dfgfhgf</div>
<div class="t" style="left:249px;top:438px;font-size:5.78px;line-height:10px;color:#000;font-weight:bold;text-align:left;-webkit-text-stroke:0.12px #000">QAP REVISION NO</div>
<div class="t" style="left:336.4px;top:439px;font-size:5.05px;line-height:9px;color:#333;font-weight:normal;text-align:left;-webkit-text-stroke:0">fghgf</div>
<div style="left:2px;top:477.05px;width:480.2px;height:0.9px;background:#222;"></div>
<div style="left:2px;top:492.55px;width:480.2px;height:0.9px;background:#222;"></div>
<div style="left:2px;top:508.55px;width:480.2px;height:0.9px;background:#222;"></div>
<div style="left:2px;top:524.65px;width:480.2px;height:0.9px;background:#222;"></div>
<div style="left:2px;top:540.8499999999999px;width:480.2px;height:0.9px;background:#222;"></div>
<div style="left:2px;top:556.75px;width:480.2px;height:0.9px;background:#222;"></div>
<div style="left:2px;top:572.8499999999999px;width:480.2px;height:0.9px;background:#222;"></div>
<div style="left:2px;top:588.65px;width:480.2px;height:0.9px;background:#222;"></div>
<div style="left:2px;top:604.9499999999999px;width:480.2px;height:0.9px;background:#222;"></div>
<div style="left:2px;top:620.9499999999999px;width:480.2px;height:0.9px;background:#222;"></div>
<div style="left:2px;top:636.55px;width:480.2px;height:0.9px;background:#222;"></div>
<div style="left:2px;top:652.65px;width:480.2px;height:0.9px;background:#222;"></div>
<div style="left:49.2px;top:477.5px;width:0.8px;height:175.60000000000002px;background:#222;"></div>
<div style="left:101.6px;top:477.5px;width:0.8px;height:175.60000000000002px;background:#222;"></div>
<div style="left:141.79999999999998px;top:477.5px;width:0.8px;height:175.60000000000002px;background:#222;"></div>
<div style="left:187.2px;top:477.5px;width:0.8px;height:175.60000000000002px;background:#222;"></div>
<div style="left:230.0px;top:477.5px;width:0.8px;height:175.60000000000002px;background:#222;"></div>
<div style="left:274.8px;top:477.5px;width:0.8px;height:175.60000000000002px;background:#222;"></div>
<div style="left:320.20000000000005px;top:477.5px;width:0.8px;height:175.60000000000002px;background:#222;"></div>
<div style="left:367.20000000000005px;top:477.5px;width:0.8px;height:175.60000000000002px;background:#222;"></div>
<div style="left:391.20000000000005px;top:485.3px;width:0.8px;height:167.8px;background:#222;"></div>
<div style="left:414.6px;top:485.3px;width:0.8px;height:167.8px;background:#222;"></div>
<div style="left:438.0px;top:477.5px;width:0.8px;height:175.60000000000002px;background:#222;"></div>
<div style="left:367.6px;top:484.90000000000003px;width:70.79999999999995px;height:0.8px;background:#222;"></div>
<div class="t" style="left:-8px;top:477px;width:67.6px;font-size:5.8px;line-height:10px;color:#000;font-weight:bold;text-align:center;-webkit-text-stroke:0.12px #000">COMPOUND</div>
<div class="t" style="left:-8px;top:483px;width:67.6px;font-size:5.8px;line-height:10px;color:#000;font-weight:bold;text-align:center;-webkit-text-stroke:0.12px #000">OPERATION</div>
<div class="t" style="left:39.6px;top:477px;width:72.4px;font-size:5.8px;line-height:10px;color:#000;font-weight:bold;text-align:center;-webkit-text-stroke:0.12px #000">CHARCTERISTIC</div>
<div class="t" style="left:39.6px;top:483px;width:72.4px;font-size:5.8px;line-height:10px;color:#000;font-weight:bold;text-align:center;-webkit-text-stroke:0.12px #000">CHECKED</div>
<div class="t" style="left:92px;top:480px;width:60.19999999999999px;font-size:5.8px;line-height:10px;color:#000;font-weight:bold;text-align:center;-webkit-text-stroke:0.12px #000">CATEGORY</div>
<div class="t" style="left:132.2px;top:477px;width:65.4px;font-size:5.8px;line-height:10px;color:#000;font-weight:bold;text-align:center;-webkit-text-stroke:0.12px #000">TYPE/METHOD</div>
<div class="t" style="left:132.2px;top:483px;width:65.4px;font-size:5.8px;line-height:10px;color:#000;font-weight:bold;text-align:center;-webkit-text-stroke:0.12px #000">OF CHECK</div>
<div class="t" style="left:177.6px;top:477px;width:62.80000000000001px;font-size:5.8px;line-height:10px;color:#000;font-weight:bold;text-align:center;-webkit-text-stroke:0.12px #000">EXTENT OF</div>
<div class="t" style="left:177.6px;top:483px;width:62.80000000000001px;font-size:5.8px;line-height:10px;color:#000;font-weight:bold;text-align:center;-webkit-text-stroke:0.12px #000">CHECK</div>
<div class="t" style="left:220.4px;top:477px;width:64.79999999999998px;font-size:5.8px;line-height:10px;color:#000;font-weight:bold;text-align:center;-webkit-text-stroke:0.12px #000">REFERENCE</div>
<div class="t" style="left:220.4px;top:483px;width:64.79999999999998px;font-size:5.8px;line-height:10px;color:#000;font-weight:bold;text-align:center;-webkit-text-stroke:0.12px #000">DOCUMENT</div>
<div class="t" style="left:265.2px;top:477px;width:65.40000000000003px;font-size:5.8px;line-height:10px;color:#000;font-weight:bold;text-align:center;-webkit-text-stroke:0.12px #000">ACCEPTANCE</div>
<div class="t" style="left:265.2px;top:483px;width:65.40000000000003px;font-size:5.8px;line-height:10px;color:#000;font-weight:bold;text-align:center;-webkit-text-stroke:0.12px #000">NORMS</div>
<div class="t" style="left:310.6px;top:477px;width:67.0px;font-size:5.8px;line-height:10px;color:#000;font-weight:bold;text-align:center;-webkit-text-stroke:0.12px #000">FORMAT OF</div>
<div class="t" style="left:310.6px;top:483px;width:67.0px;font-size:5.8px;line-height:10px;color:#000;font-weight:bold;text-align:center;-webkit-text-stroke:0.12px #000">RECORD</div>
<div class="t" style="left:357.6px;top:477px;width:90.79999999999995px;font-size:5.6px;line-height:10px;color:#000;font-weight:bold;text-align:center;-webkit-text-stroke:0.12px #000">AGENCY</div>
<div class="t" style="left:357.6px;top:484px;width:44.0px;font-size:5.6px;line-height:10px;color:#000;font-weight:bold;text-align:center;-webkit-text-stroke:0.12px #000">UEPL</div>
<div class="t" style="left:381.6px;top:484px;width:43.39999999999998px;font-size:5.6px;line-height:10px;color:#000;font-weight:bold;text-align:center;-webkit-text-stroke:0.12px #000">TPI</div>
<div class="t" style="left:405px;top:484px;width:43.39999999999998px;font-size:5.6px;line-height:10px;color:#000;font-weight:bold;text-align:center;-webkit-text-stroke:0.12px #000">dfdsg</div>
<div class="t" style="left:440.9px;top:480px;width:43.80000000000001px;font-size:5.8px;line-height:10px;color:#000;font-weight:bold;text-align:center;-webkit-text-stroke:0.12px #000">REMARKS</div>
<div class="t" style="left:-8px;top:494px;width:67.6px;font-size:5.15px;line-height:9px;color:#2a2a2a;font-weight:normal;text-align:center;-webkit-text-stroke:0.12px #2a2a2a">RAW MATERIAL</div>
<div class="t" style="left:-8px;top:500px;width:67.6px;font-size:5.15px;line-height:9px;color:#2a2a2a;font-weight:normal;text-align:center;-webkit-text-stroke:0.12px #2a2a2a">IDENTIFICATION</div>
<div class="t" style="left:39.6px;top:494px;width:72.4px;font-size:5.15px;line-height:9px;color:#2a2a2a;font-weight:normal;text-align:center;-webkit-text-stroke:0.12px #2a2a2a">CHEMICAL</div>
<div class="t" style="left:39.6px;top:500px;width:72.4px;font-size:5.15px;line-height:9px;color:#2a2a2a;font-weight:normal;text-align:center;-webkit-text-stroke:0.12px #2a2a2a">COMPOSITION</div>
<div class="t" style="left:92px;top:497px;width:60.19999999999999px;font-size:5.15px;line-height:9px;color:#2a2a2a;font-weight:normal;text-align:center;-webkit-text-stroke:0.12px #2a2a2a">CRITICAL</div>
<div class="t" style="left:132.2px;top:494px;width:65.4px;font-size:5.15px;line-height:9px;color:#2a2a2a;font-weight:normal;text-align:center;-webkit-text-stroke:0.12px #2a2a2a">VARIFICATION</div>
<div class="t" style="left:132.2px;top:500px;width:65.4px;font-size:5.15px;line-height:9px;color:#2a2a2a;font-weight:normal;text-align:center;-webkit-text-stroke:0.12px #2a2a2a">OF RMTC WITH</div>
<div class="t" style="left:177.6px;top:497px;width:62.80000000000001px;font-size:5.15px;line-height:9px;color:#2a2a2a;font-weight:normal;text-align:center;-webkit-text-stroke:0.12px #2a2a2a">100%</div>
<div class="t" style="left:310.6px;top:494px;width:67.0px;font-size:5.15px;line-height:9px;color:#2a2a2a;font-weight:normal;text-align:center;-webkit-text-stroke:0.12px #2a2a2a">ROW MATERIAL</div>
<div class="t" style="left:310.6px;top:500px;width:67.0px;font-size:5.15px;line-height:9px;color:#2a2a2a;font-weight:normal;text-align:center;-webkit-text-stroke:0.12px #2a2a2a">T.C</div>
<div class="t" style="left:357.6px;top:497px;width:44.0px;font-size:5.15px;line-height:9px;color:#2a2a2a;font-weight:normal;text-align:center;-webkit-text-stroke:0.12px #2a2a2a">P</div>
<div class="t" style="left:381.6px;top:497px;width:43.39999999999998px;font-size:5.15px;line-height:9px;color:#2a2a2a;font-weight:normal;text-align:center;-webkit-text-stroke:0.12px #2a2a2a">P</div>
<div class="t" style="left:405px;top:497px;width:43.39999999999998px;font-size:5.15px;line-height:9px;color:#2a2a2a;font-weight:normal;text-align:center;-webkit-text-stroke:0.12px #2a2a2a">P</div>
<div class="t" style="left:-8px;top:513px;width:67.6px;font-size:5.15px;line-height:9px;color:#2a2a2a;font-weight:normal;text-align:center;-webkit-text-stroke:0.12px #2a2a2a">HEAT TREATMENT</div>
<div class="t" style="left:39.6px;top:513px;width:72.4px;font-size:5.15px;line-height:9px;color:#2a2a2a;font-weight:normal;text-align:center;-webkit-text-stroke:0.12px #2a2a2a">NORMALISED</div>
<div class="t" style="left:92px;top:513px;width:60.19999999999999px;font-size:5.15px;line-height:9px;color:#2a2a2a;font-weight:normal;text-align:center;-webkit-text-stroke:0.12px #2a2a2a">MAJOR</div>
<div class="t" style="left:132.2px;top:513px;width:65.4px;font-size:5.15px;line-height:9px;color:#2a2a2a;font-weight:normal;text-align:center;-webkit-text-stroke:0.12px #2a2a2a">HT CHART</div>
<div class="t" style="left:310.6px;top:510px;width:67.0px;font-size:5.15px;line-height:9px;color:#2a2a2a;font-weight:normal;text-align:center;-webkit-text-stroke:0.12px #2a2a2a">HEAT</div>
<div class="t" style="left:310.6px;top:516px;width:67.0px;font-size:5.15px;line-height:9px;color:#2a2a2a;font-weight:normal;text-align:center;-webkit-text-stroke:0.12px #2a2a2a">TREATMENT</div>
<div class="t" style="left:357.6px;top:513px;width:44.0px;font-size:5.15px;line-height:9px;color:#2a2a2a;font-weight:normal;text-align:center;-webkit-text-stroke:0.12px #2a2a2a">W</div>
<div class="t" style="left:381.6px;top:513px;width:43.39999999999998px;font-size:5.15px;line-height:9px;color:#2a2a2a;font-weight:normal;text-align:center;-webkit-text-stroke:0.12px #2a2a2a">W</div>
<div class="t" style="left:405px;top:513px;width:43.39999999999998px;font-size:5.15px;line-height:9px;color:#2a2a2a;font-weight:normal;text-align:center;-webkit-text-stroke:0.12px #2a2a2a">W</div>
<div class="t" style="left:-8px;top:529px;width:67.6px;font-size:5.15px;line-height:9px;color:#2a2a2a;font-weight:normal;text-align:center;-webkit-text-stroke:0.12px #2a2a2a">T.P.M</div>
<div class="t" style="left:39.6px;top:526px;width:72.4px;font-size:5.15px;line-height:9px;color:#2a2a2a;font-weight:normal;text-align:center;-webkit-text-stroke:0.12px #2a2a2a">SELECTIONS OF</div>
<div class="t" style="left:39.6px;top:532px;width:72.4px;font-size:5.15px;line-height:9px;color:#2a2a2a;font-weight:normal;text-align:center;-webkit-text-stroke:0.12px #2a2a2a">TEST COUPON</div>
<div class="t" style="left:132.2px;top:526px;width:65.4px;font-size:5.15px;line-height:9px;color:#2a2a2a;font-weight:normal;text-align:center;-webkit-text-stroke:0.12px #2a2a2a">VARIFICATION</div>
<div class="t" style="left:132.2px;top:532px;width:65.4px;font-size:5.15px;line-height:9px;color:#2a2a2a;font-weight:normal;text-align:center;-webkit-text-stroke:0.12px #2a2a2a">OF TEMP TIME</div>
<div class="t" style="left:177.6px;top:529px;width:62.80000000000001px;font-size:5.15px;line-height:9px;color:#2a2a2a;font-weight:normal;text-align:center;-webkit-text-stroke:0.12px #2a2a2a">BATCH WISE</div>
<div class="t" style="left:310.6px;top:526px;width:67.0px;font-size:5.15px;line-height:9px;color:#2a2a2a;font-weight:normal;text-align:center;-webkit-text-stroke:0.12px #2a2a2a">HEAT</div>
<div class="t" style="left:310.6px;top:532px;width:67.0px;font-size:5.15px;line-height:9px;color:#2a2a2a;font-weight:normal;text-align:center;-webkit-text-stroke:0.12px #2a2a2a">TREATMENT</div>
<div class="t" style="left:357.6px;top:529px;width:44.0px;font-size:5.15px;line-height:9px;color:#2a2a2a;font-weight:normal;text-align:center;-webkit-text-stroke:0.12px #2a2a2a">R</div>
<div class="t" style="left:381.6px;top:529px;width:43.39999999999998px;font-size:5.15px;line-height:9px;color:#2a2a2a;font-weight:normal;text-align:center;-webkit-text-stroke:0.12px #2a2a2a">R</div>
<div class="t" style="left:405px;top:529px;width:43.39999999999998px;font-size:5.15px;line-height:9px;color:#2a2a2a;font-weight:normal;text-align:center;-webkit-text-stroke:0.12px #2a2a2a">R</div>
<div class="t" style="left:-8px;top:542px;width:67.6px;font-size:5.15px;line-height:9px;color:#2a2a2a;font-weight:normal;text-align:center;-webkit-text-stroke:0.12px #2a2a2a">MECHANICAL</div>
<div class="t" style="left:-8px;top:548px;width:67.6px;font-size:5.15px;line-height:9px;color:#2a2a2a;font-weight:normal;text-align:center;-webkit-text-stroke:0.12px #2a2a2a">TEST</div>
<div class="t" style="left:39.6px;top:542px;width:72.4px;font-size:5.15px;line-height:9px;color:#2a2a2a;font-weight:normal;text-align:center;-webkit-text-stroke:0.12px #2a2a2a">TENSILE + IMPACT</div>
<div class="t" style="left:39.6px;top:548px;width:72.4px;font-size:5.15px;line-height:9px;color:#2a2a2a;font-weight:normal;text-align:center;-webkit-text-stroke:0.12px #2a2a2a">0C</div>
<div class="t" style="left:132.2px;top:542px;width:65.4px;font-size:5.15px;line-height:9px;color:#2a2a2a;font-weight:normal;text-align:center;-webkit-text-stroke:0.12px #2a2a2a">TENSILE +</div>
<div class="t" style="left:132.2px;top:548px;width:65.4px;font-size:5.15px;line-height:9px;color:#2a2a2a;font-weight:normal;text-align:center;-webkit-text-stroke:0.12px #2a2a2a">IMPACT 0 C AV</div>
<div class="t" style="left:177.6px;top:545px;width:62.80000000000001px;font-size:5.15px;line-height:9px;color:#2a2a2a;font-weight:normal;text-align:center;-webkit-text-stroke:0.12px #2a2a2a">I SAMPLE/HEAT</div>
<div class="t" style="left:310.6px;top:545px;width:67.0px;font-size:5.15px;line-height:9px;color:#2a2a2a;font-weight:normal;text-align:center;-webkit-text-stroke:0.12px #2a2a2a">TPM SHEET</div>
<div class="t" style="left:357.6px;top:545px;width:44.0px;font-size:5.15px;line-height:9px;color:#2a2a2a;font-weight:normal;text-align:center;-webkit-text-stroke:0.12px #2a2a2a">H</div>
<div class="t" style="left:381.6px;top:545px;width:43.39999999999998px;font-size:5.15px;line-height:9px;color:#2a2a2a;font-weight:normal;text-align:center;-webkit-text-stroke:0.12px #2a2a2a">H</div>
<div class="t" style="left:405px;top:545px;width:43.39999999999998px;font-size:5.15px;line-height:9px;color:#2a2a2a;font-weight:normal;text-align:center;-webkit-text-stroke:0.12px #2a2a2a">H</div>
<div class="t" style="left:-8px;top:561px;width:67.6px;font-size:5.15px;line-height:9px;color:#2a2a2a;font-weight:normal;text-align:center;-webkit-text-stroke:0.12px #2a2a2a">CHEMICAL</div>
<div class="t" style="left:39.6px;top:561px;width:72.4px;font-size:5.15px;line-height:9px;color:#2a2a2a;font-weight:normal;text-align:center;-webkit-text-stroke:0.12px #2a2a2a">PRODUCT ANAYSIS</div>
<div class="t" style="left:132.2px;top:561px;width:65.4px;font-size:5.15px;line-height:9px;color:#2a2a2a;font-weight:normal;text-align:center;-webkit-text-stroke:0.12px #2a2a2a">SPECTRO</div>
<div class="t" style="left:177.6px;top:558px;width:62.80000000000001px;font-size:5.15px;line-height:9px;color:#2a2a2a;font-weight:normal;text-align:center;-webkit-text-stroke:0.12px #2a2a2a">PER HEAT/PER</div>
<div class="t" style="left:177.6px;top:564px;width:62.80000000000001px;font-size:5.15px;line-height:9px;color:#2a2a2a;font-weight:normal;text-align:center;-webkit-text-stroke:0.12px #2a2a2a">CAST</div>
<div class="t" style="left:310.6px;top:558px;width:67.0px;font-size:5.15px;line-height:9px;color:#2a2a2a;font-weight:normal;text-align:center;-webkit-text-stroke:0.12px #2a2a2a">MECHNICAL TEST</div>
<div class="t" style="left:310.6px;top:564px;width:67.0px;font-size:5.15px;line-height:9px;color:#2a2a2a;font-weight:normal;text-align:center;-webkit-text-stroke:0.12px #2a2a2a">REPORT</div>
<div class="t" style="left:-8px;top:574px;width:67.6px;font-size:5.15px;line-height:9px;color:#2a2a2a;font-weight:normal;text-align:center;-webkit-text-stroke:0.12px #2a2a2a">DISTRUCTIVE</div>
<div class="t" style="left:-8px;top:580px;width:67.6px;font-size:5.15px;line-height:9px;color:#2a2a2a;font-weight:normal;text-align:center;-webkit-text-stroke:0.12px #2a2a2a">TESTING</div>
<div class="t" style="left:39.6px;top:574px;width:72.4px;font-size:5.15px;line-height:9px;color:#2a2a2a;font-weight:normal;text-align:center;-webkit-text-stroke:0.12px #2a2a2a">MACHANICAL</div>
<div class="t" style="left:39.6px;top:580px;width:72.4px;font-size:5.15px;line-height:9px;color:#2a2a2a;font-weight:normal;text-align:center;-webkit-text-stroke:0.12px #2a2a2a">PROPERTIES</div>
<div class="t" style="left:132.2px;top:577px;width:65.4px;font-size:5.15px;line-height:9px;color:#2a2a2a;font-weight:normal;text-align:center;-webkit-text-stroke:0.12px #2a2a2a">TENSILE TEST</div>
<div class="t" style="left:-8px;top:593px;width:67.6px;font-size:5.15px;line-height:9px;color:#2a2a2a;font-weight:normal;text-align:center;-webkit-text-stroke:0.12px #2a2a2a">NDT</div>
<div class="t" style="left:39.6px;top:593px;width:72.4px;font-size:5.15px;line-height:9px;color:#2a2a2a;font-weight:normal;text-align:center;-webkit-text-stroke:0.12px #2a2a2a">UST</div>
<div class="t" style="left:132.2px;top:593px;width:65.4px;font-size:5.15px;line-height:9px;color:#2a2a2a;font-weight:normal;text-align:center;-webkit-text-stroke:0.12px #2a2a2a">PLUS ECHO</div>
<div class="t" style="left:177.6px;top:590px;width:62.80000000000001px;font-size:5.15px;line-height:9px;color:#2a2a2a;font-weight:normal;text-align:center;-webkit-text-stroke:0.12px #2a2a2a">100% ON NON</div>
<div class="t" style="left:177.6px;top:596px;width:62.80000000000001px;font-size:5.15px;line-height:9px;color:#2a2a2a;font-weight:normal;text-align:center;-webkit-text-stroke:0.12px #2a2a2a">STD ITEMS</div>
<div class="t" style="left:310.6px;top:593px;width:67.0px;font-size:5.15px;line-height:9px;color:#2a2a2a;font-weight:normal;text-align:center;-webkit-text-stroke:0.12px #2a2a2a">UST REPORT</div>
<div class="t" style="left:-8px;top:607px;width:67.6px;font-size:5.15px;line-height:9px;color:#2a2a2a;font-weight:normal;text-align:center;-webkit-text-stroke:0.12px #2a2a2a">FINAL</div>
<div class="t" style="left:-8px;top:613px;width:67.6px;font-size:5.15px;line-height:9px;color:#2a2a2a;font-weight:normal;text-align:center;-webkit-text-stroke:0.12px #2a2a2a">DOCUMENTATION</div>
<div class="t" style="left:39.6px;top:610px;width:72.4px;font-size:5.15px;line-height:9px;color:#2a2a2a;font-weight:normal;text-align:center;-webkit-text-stroke:0.12px #2a2a2a">NORMALISED</div>
<div class="t" style="left:92px;top:610px;width:60.19999999999999px;font-size:5.15px;line-height:9px;color:#2a2a2a;font-weight:normal;text-align:center;-webkit-text-stroke:0.12px #2a2a2a">CRITICAL</div>
<div class="t" style="left:132.2px;top:607px;width:65.4px;font-size:5.15px;line-height:9px;color:#2a2a2a;font-weight:normal;text-align:center;-webkit-text-stroke:0.12px #2a2a2a">TENSILE +</div>
<div class="t" style="left:132.2px;top:613px;width:65.4px;font-size:5.15px;line-height:9px;color:#2a2a2a;font-weight:normal;text-align:center;-webkit-text-stroke:0.12px #2a2a2a">IMPACT 0 C AV</div>
<div class="t" style="left:177.6px;top:610px;width:62.80000000000001px;font-size:5.15px;line-height:9px;color:#2a2a2a;font-weight:normal;text-align:center;-webkit-text-stroke:0.12px #2a2a2a">BATCH WISE</div>
<div class="t" style="left:220.4px;top:610px;width:64.79999999999998px;font-size:5.15px;line-height:9px;color:#2a2a2a;font-weight:normal;text-align:center;-webkit-text-stroke:0.12px #2a2a2a">dfdsfsd</div>
<div class="t" style="left:265.2px;top:610px;width:65.40000000000003px;font-size:5.15px;line-height:9px;color:#2a2a2a;font-weight:normal;text-align:center;-webkit-text-stroke:0.12px #2a2a2a">dsfsdf</div>
<div class="t" style="left:310.6px;top:607px;width:67.0px;font-size:5.15px;line-height:9px;color:#2a2a2a;font-weight:normal;text-align:center;-webkit-text-stroke:0.12px #2a2a2a">HEAT</div>
<div class="t" style="left:310.6px;top:613px;width:67.0px;font-size:5.15px;line-height:9px;color:#2a2a2a;font-weight:normal;text-align:center;-webkit-text-stroke:0.12px #2a2a2a">TREATMENT</div>
<div class="t" style="left:357.6px;top:610px;width:44.0px;font-size:5.15px;line-height:9px;color:#2a2a2a;font-weight:normal;text-align:center;-webkit-text-stroke:0.12px #2a2a2a">W</div>
<div class="t" style="left:381.6px;top:610px;width:43.39999999999998px;font-size:5.15px;line-height:9px;color:#2a2a2a;font-weight:normal;text-align:center;-webkit-text-stroke:0.12px #2a2a2a">W</div>
<div class="t" style="left:405px;top:610px;width:43.39999999999998px;font-size:5.15px;line-height:9px;color:#2a2a2a;font-weight:normal;text-align:center;-webkit-text-stroke:0.12px #2a2a2a">W</div>
<div class="t" style="left:-8px;top:622px;width:67.6px;font-size:5.15px;line-height:9px;color:#2a2a2a;font-weight:normal;text-align:center;-webkit-text-stroke:0.12px #2a2a2a">FINAL</div>
<div class="t" style="left:-8px;top:628px;width:67.6px;font-size:5.15px;line-height:9px;color:#2a2a2a;font-weight:normal;text-align:center;-webkit-text-stroke:0.12px #2a2a2a">INSPECTION</div>
<div class="t" style="left:132.2px;top:622px;width:65.4px;font-size:5.15px;line-height:9px;color:#2a2a2a;font-weight:normal;text-align:center;-webkit-text-stroke:0.12px #2a2a2a">VISUAL+DIMENTI</div>
<div class="t" style="left:132.2px;top:628px;width:65.4px;font-size:5.15px;line-height:9px;color:#2a2a2a;font-weight:normal;text-align:center;-webkit-text-stroke:0.12px #2a2a2a">ONS</div>
<div class="t" style="left:177.6px;top:622px;width:62.80000000000001px;font-size:5.15px;line-height:9px;color:#2a2a2a;font-weight:normal;text-align:center;-webkit-text-stroke:0.12px #2a2a2a">100% ON BEVEL</div>
<div class="t" style="left:177.6px;top:628px;width:62.80000000000001px;font-size:5.15px;line-height:9px;color:#2a2a2a;font-weight:normal;text-align:center;-webkit-text-stroke:0.12px #2a2a2a">ENDS</div>
<div class="t" style="left:310.6px;top:625px;width:67.0px;font-size:5.15px;line-height:9px;color:#2a2a2a;font-weight:normal;text-align:center;-webkit-text-stroke:0.12px #2a2a2a">DPT REPORT</div>
<div class="t" style="left:-8px;top:638px;width:67.6px;font-size:5.15px;line-height:9px;color:#2a2a2a;font-weight:normal;text-align:center;-webkit-text-stroke:0.12px #2a2a2a">FINAL</div>
<div class="t" style="left:-8px;top:644px;width:67.6px;font-size:5.15px;line-height:9px;color:#2a2a2a;font-weight:normal;text-align:center;-webkit-text-stroke:0.12px #2a2a2a">DOCUMENTATION</div>
<div class="t" style="left:2.3px;top:658px;font-size:4.52px;line-height:8px;color:#222;font-weight:normal;text-align:left;-webkit-text-stroke:0">Remark :- CHEMICAL/PRODUCT ANALYSIS REPORT REVIEWED BY TPIA.., IGC TEST CARRIEDOUT AS PER ASTM A262 PRACTICE  'E' , PER HEAT/PER BATCH ON SS ITEM &amp; Witnessed by TPIA.</div>
<div class="t" style="left:106.5px;top:663px;font-size:5.0px;line-height:9px;color:#222;font-weight:normal;text-align:left;-webkit-text-stroke:0">W=WITNESS</div>
<div class="t" style="left:276px;top:663px;font-size:5.1px;line-height:9px;color:#222;font-weight:normal;text-align:left;-webkit-text-stroke:0">R=REVIEW</div>
<div class="t" style="left:435px;top:663px;font-size:5.05px;line-height:9px;color:#222;font-weight:normal;text-align:left;-webkit-text-stroke:0">H=HOLD</div>
<div class="t" style="left:27px;top:676px;font-size:5.05px;line-height:9px;color:#222;font-weight:normal;text-align:left;-webkit-text-stroke:0">Prepared By</div>
<div class="t" style="left:179.3px;top:676px;font-size:5.15px;line-height:9px;color:#222;font-weight:normal;text-align:left;-webkit-text-stroke:0">Approved By(Client)</div>
<div class="t" style="left:363.9px;top:676px;font-size:5.1px;line-height:9px;color:#222;font-weight:normal;text-align:left;-webkit-text-stroke:0">Approved by(TPIA)</div>
<div style="left:2px;top:699.9px;width:480.6px;height:13.9px;border:0.9px solid #444;background:#fff;"></div>
<div class="t" style="left:4.2px;top:704px;font-size:4.45px;line-height:8px;color:#222;font-weight:normal;text-align:left;-webkit-text-stroke:0">Date &amp; Time :</div>
<div class="t" style="left:37px;top:704px;font-size:4.47px;line-height:8px;color:#222;font-weight:normal;text-align:left;-webkit-text-stroke:0">02/06/2023 3.42 PM</div>
<div class="t" style="left:177px;top:704px;font-size:4.5px;line-height:8px;color:#222;font-weight:normal;text-align:left;-webkit-text-stroke:0.05px #222">Powered By</div>
<svg style="left:206.400px;top:701.200px" width="9.800" height="11.400" viewBox="0 0 18 21"><path d="M1.500 3h15v8c0 5-3.500 7.500-7.500 9C5 18.500 1.500 16 1.500 11z" fill="#f4f8fb" stroke="#4d7ea8" stroke-width="1.700"/><path d="M5 9h8v5H5z" fill="#7fb2d8"/><path d="M6 10.500h3v2.500H6z" fill="#e9b23c"/><path d="M3 1l2 2.500M9 0.500v3M15 1l-2 2.500" stroke="#d8a13a" stroke-width="1.300"/></svg>
<div class="t" style="left:216.8px;top:699px;font-size:6.4px;line-height:11px;color:#4aa3d8;font-weight:normal;text-align:left;font-family:'Liberation Serif',serif;-webkit-text-stroke:0;transform:scaleX(.75);transform-origin:0 50%;">Digi<span style="color:#f0a030;font-size:7.600px">S</span><span style="color:#f0a030">oc</span> ERP</div>
<div class="t" style="left:220.2px;top:708px;font-size:2.3px;line-height:5px;color:#2f5f8f;font-weight:bold;text-align:left;-webkit-text-stroke:0">ERP made SIMPLE</div>
<div class="t" style="left:317.5px;top:704px;font-size:4.53px;line-height:8px;color:#222;font-weight:normal;text-align:left;-webkit-text-stroke:0">FORMAT NO.:F: QAP-01- ERP</div>
<div class="t" style="left:441.4px;top:704px;font-size:4.25px;line-height:8px;color:#222;font-weight:normal;text-align:left;-webkit-text-stroke:0">Page 1 of 1</div>
<div style="left:482px;top:372.8px;width:426.4px;height:145px;background:#fff;"></div>
<div style="left:482px;top:372.8px;width:5.2px;height:145px;background:#8f959f;"></div>
<div style="left:482px;top:372.8px;width:5.2px;height:19.9px;background:#6b1e4e;"></div>
<div style="left:482.6px;top:374.4px;width:3.6px;height:0.9px;background:#b79aab;"></div>
<div style="left:482.6px;top:377.4px;width:3.6px;height:0.9px;background:#b79aab;"></div>
<div style="left:903px;top:372.8px;width:5.2px;height:145px;background:#8f959f;"></div>
<div style="left:903px;top:372.8px;width:5.2px;height:19.9px;background:#6b1e4e;"></div>
<div style="left:903.6px;top:374.4px;width:3.6px;height:0.9px;background:#b79aab;"></div>
<div style="left:903.6px;top:377.4px;width:3.6px;height:0.9px;background:#b79aab;"></div>
<div style="left:487.2px;top:372.8px;width:415.8px;height:145px;background:#fff;overflow:hidden;"></div>
<div class="t" style="left:496px;top:379px;font-size:8.0px;line-height:13px;color:#454a50;font-weight:normal;text-align:left;">QAP Pending</div>
<svg style="left:888px;top:381.800px" width="7" height="7" viewBox="0 0 7 7"><path d="M0.300 0.300L6.700 6.700M6.700 0.300L0.300 6.700" stroke="#444" stroke-width=".95"/></svg>
<div style="left:496px;top:408.3px;width:399px;height:116px;border:0.7px solid #e2e2e2;background:#fff;"></div>
<div style="left:496px;top:429.84999999999997px;width:390.5px;height:0.7px;background:#e2e2e2;"></div>
<div style="left:496px;top:449.34999999999997px;width:390.5px;height:0.7px;background:#e2e2e2;"></div>
<div style="left:496px;top:468.65px;width:390.5px;height:0.7px;background:#e2e2e2;"></div>
<div style="left:496px;top:488.15px;width:390.5px;height:0.7px;background:#e2e2e2;"></div>
<div style="left:496px;top:507.34999999999997px;width:390.5px;height:0.7px;background:#e2e2e2;"></div>
<div style="left:496px;top:526.65px;width:390.5px;height:0.7px;background:#e2e2e2;"></div>
<div style="left:496px;top:408px;width:398.600px;height:109.400px;overflow:hidden;">
<div class="t" style="left:11.399999999999977px;top:6px;font-size:6.6px;line-height:11px;color:#707070;font-weight:normal;text-align:left;transform:scaleX(.93);transform-origin:0 50%;">Customer Name</div>
<svg style="left:89.40000000000002px;top:10.40px" width="4.600" height="2.800" viewBox="0 0 4.600 2.800"><path d="M0 0h4.600L2.300 2.800z" fill="#8a8a8a"/></svg>
<div class="t" style="left:115.39999999999998px;top:6px;font-size:6.6px;line-height:11px;color:#707070;font-weight:normal;text-align:left;transform:scaleX(.93);transform-origin:0 50%;">WO Number</div>
<svg style="left:167.00000000000006px;top:10.40px" width="4.600" height="2.800" viewBox="0 0 4.600 2.800"><path d="M0 0h4.600L2.300 2.800z" fill="#8a8a8a"/></svg>
<div class="t" style="left:193.5px;top:6px;font-size:6.6px;line-height:11px;color:#707070;font-weight:normal;text-align:left;transform:scaleX(.93);transform-origin:0 50%;">WO Date</div>
<svg style="left:244.8px;top:10.40px" width="4.600" height="2.800" viewBox="0 0 4.600 2.800"><path d="M0 0h4.600L2.300 2.800z" fill="#8a8a8a"/></svg>
<div class="t" style="left:271.29999999999995px;top:6px;font-size:6.6px;line-height:11px;color:#707070;font-weight:normal;text-align:left;transform:scaleX(.93);transform-origin:0 50%;">WO Ref. No</div>
<svg style="left:322.8px;top:10.40px" width="4.600" height="2.800" viewBox="0 0 4.600 2.800"><path d="M0 0h4.600L2.300 2.800z" fill="#8a8a8a"/></svg>
<div class="t" style="left:349px;top:6px;font-size:6.6px;line-height:11px;color:#707070;font-weight:normal;text-align:left;transform:scaleX(.93);transform-origin:0 50%;">Customer PO N</div>
<div class="t" style="left:9px;top:27px;width:80px;font-size:6.95px;line-height:12px;color:#4a4a4a;font-weight:normal;text-align:center;">TMS PVT LTD</div>
<div class="t" style="left:115.39999999999998px;top:27px;font-size:6.76px;line-height:11px;color:#333;font-weight:normal;text-align:left;">WOUT/00108/22-23</div>
<div class="t" style="left:193.5px;top:27px;font-size:6.9px;line-height:11px;color:#444;font-weight:normal;text-align:left;">15/11/2022</div>
<div class="t" style="left:271.29999999999995px;top:27px;font-size:6.9px;line-height:11px;color:#444;font-weight:normal;text-align:left;">171122C</div>
<div class="t" style="left:349px;top:27px;font-size:6.8px;line-height:11px;color:#444;font-weight:normal;text-align:left;">CPO-43232</div>
<div class="t" style="left:9px;top:46px;width:80px;font-size:6.95px;line-height:12px;color:#4a4a4a;font-weight:normal;text-align:center;">XYZ INDUSTRIES</div>
<div class="t" style="left:115.39999999999998px;top:46px;font-size:6.76px;line-height:11px;color:#333;font-weight:normal;text-align:left;">WOUT/00109/22-23</div>
<div class="t" style="left:193.5px;top:46px;font-size:6.9px;line-height:11px;color:#444;font-weight:normal;text-align:left;">18/11/2022</div>
<div class="t" style="left:271.29999999999995px;top:46px;font-size:6.9px;line-height:11px;color:#444;font-weight:normal;text-align:left;">181122A</div>
<div class="t" style="left:349px;top:46px;font-size:6.8px;line-height:11px;color:#444;font-weight:normal;text-align:left;">CPO-876</div>
<div class="t" style="left:9px;top:65px;width:80px;font-size:6.95px;line-height:12px;color:#4a4a4a;font-weight:normal;text-align:center;">ABC PVT LTD</div>
<div class="t" style="left:115.39999999999998px;top:65px;font-size:6.76px;line-height:11px;color:#333;font-weight:normal;text-align:left;">WOUT/00110/22-23</div>
<div class="t" style="left:193.5px;top:65px;font-size:6.9px;line-height:11px;color:#444;font-weight:normal;text-align:left;">18/11/2022</div>
<div class="t" style="left:271.29999999999995px;top:65px;font-size:6.9px;line-height:11px;color:#444;font-weight:normal;text-align:left;">101122A</div>
<div class="t" style="left:349px;top:65px;font-size:6.8px;line-height:11px;color:#444;font-weight:normal;text-align:left;">PO-7686877B</div>
<div class="t" style="left:9px;top:84px;width:80px;font-size:6.95px;line-height:12px;color:#4a4a4a;font-weight:normal;text-align:center;">XYZ INDUSTRIES</div>
<div class="t" style="left:115.39999999999998px;top:84px;font-size:6.76px;line-height:11px;color:#333;font-weight:normal;text-align:left;">WOUT/00111/22-23</div>
<div class="t" style="left:193.5px;top:84px;font-size:6.9px;line-height:11px;color:#444;font-weight:normal;text-align:left;">21/11/2022</div>
<div class="t" style="left:271.29999999999995px;top:84px;font-size:6.9px;line-height:11px;color:#444;font-weight:normal;text-align:left;">111122B</div>
<div class="t" style="left:349px;top:84px;font-size:6.8px;line-height:11px;color:#444;font-weight:normal;text-align:left;">CPO-001</div>
<div class="t" style="left:9px;top:103px;width:80px;font-size:6.95px;line-height:12px;color:#4a4a4a;font-weight:normal;text-align:center;">AFB INDUSTRIES</div>
<div class="t" style="left:115.39999999999998px;top:103px;font-size:6.76px;line-height:11px;color:#333;font-weight:normal;text-align:left;">WOUT/00114/22-23</div>
<div class="t" style="left:193.5px;top:103px;font-size:6.9px;line-height:11px;color:#444;font-weight:normal;text-align:left;">25/11/2022</div>
<div class="t" style="left:271.29999999999995px;top:103px;font-size:6.9px;line-height:11px;color:#444;font-weight:normal;text-align:left;">231122B</div>
<div class="t" style="left:349px;top:103px;font-size:6.8px;line-height:11px;color:#444;font-weight:normal;text-align:left;">CPO-001</div>
</div>
<div style="left:885.5px;top:409px;width:9px;height:21.2px;background:#fff;border-left:0.7px solid #e2e2e2;"></div>
<div style="left:885.8px;top:430.5px;width:8.8px;height:87px;background:#f1f1f1;"></div>
<div style="left:887.4px;top:440.3px;width:6.2px;height:31px;background:#c1c1c1;"></div>
<svg style="left:888.600px;top:434.700px" width="3.800" height="2.200" viewBox="0 0 3.800 2.200"><path d="M0 2.200h3.800L1.900 0z" fill="#777"/></svg>
<div style="left:482.4px;top:517.8px;width:540.6px;height:197.2px;background:#fff;overflow:hidden;"></div>
<div style="left:482.29999999999995px;top:517.8px;width:1.2px;height:197.20000000000005px;background:#222;"></div>
<svg style="left:0;top:0" width="1023" height="715" viewBox="0 0 1023 715"><path d="M490.200 524.200L498.600 530.600M498.600 524.200L490.400 531" fill="none" stroke="#1b8ee6" stroke-width="2"/><path d="M494.400 524.800L497.400 527.600L494.400 530.600L491.400 527.600z" fill="#fff" stroke="#1b8ee6" stroke-width=".9"/><path d="M488.600 521.100L490.200 524.200M501.500 522.800L498.600 524.200M498.600 530.600L501.500 533.500M490.400 531L489.700 536.400M494.400 530.600L494.400 533.200" fill="none" stroke="#52aaf0" stroke-width=".6"/><circle cx="488.6" cy="521.1" r="1.4" fill="#1b8ee6"/><circle cx="493.2" cy="521.3" r="1.0" fill="#1b8ee6"/><circle cx="496.8" cy="520.8" r="0.9" fill="#1b8ee6"/><circle cx="501.5" cy="522.8" r="1.6" fill="#1b8ee6"/><circle cx="487.1" cy="526.7" r="0.8" fill="#1b8ee6"/><circle cx="490.2" cy="524.2" r="1.1" fill="#1b8ee6"/><circle cx="499.7" cy="526.6" r="1.1" fill="#1b8ee6"/><circle cx="487.4" cy="531.4" r="0.7" fill="#1b8ee6"/><circle cx="501.5" cy="533.5" r="1.0" fill="#1b8ee6"/><circle cx="489.7" cy="536.4" r="1.0" fill="#1b8ee6"/><circle cx="497" cy="536" r="0.8" fill="#1b8ee6"/><circle cx="494.4" cy="533.2" r="0.9" fill="#1b8ee6"/><circle cx="498.6" cy="530.6" r="1.0" fill="#1b8ee6"/><circle cx="490.4" cy="531" r="1.0" fill="#1b8ee6"/><circle cx="498.6" cy="524.2" r="1.0" fill="#1b8ee6"/><circle cx="503" cy="529.5" r="0.6" fill="#1b8ee6"/><circle cx="486.3" cy="523.6" r="0.5" fill="#1b8ee6"/></svg>
<div class="t" style="left:505.4px;top:516px;font-size:16.6px;line-height:24px;color:#7d7d7d;font-weight:normal;text-align:left;transform:scaleX(1.128);transform-origin:0 50%;-webkit-text-stroke:0.3px #7d7d7d;">Tanaashi</div>
<div class="t" style="left:505.2px;top:535px;font-size:4.5px;line-height:8px;color:#d8262c;font-weight:bold;text-align:left;-webkit-text-stroke:0;letter-spacing:0.02px">Enhancing information &amp; Business</div>
<div class="t" style="left:707px;top:523px;font-size:12.35px;line-height:19px;color:#000;font-weight:bold;text-align:left;">TEST COUPON MARKING</div>
<div class="t" style="left:976.9px;top:531px;font-size:5.85px;line-height:10px;color:#000;font-weight:bold;text-align:left;-webkit-text-stroke:0">FORMAT NO-F:QAP</div>
<div style="left:483px;top:553.8499999999999px;width:540px;height:0.9px;background:#555;"></div>
<div style="left:483px;top:635.25px;width:540px;height:0.9px;background:#555;"></div>
<div style="left:693.9499999999999px;top:554.3px;width:0.9px;height:81.40000000000009px;background:#555;"></div>
<div style="left:973.25px;top:554.3px;width:0.9px;height:81.40000000000009px;background:#555;"></div>
<div class="t" style="left:697px;top:557px;font-size:6.72px;line-height:11px;color:#111;font-weight:bold;text-align:left;-webkit-text-stroke:0.2px #111;">Ref. No. :</div>
<div class="t" style="left:697px;top:572px;font-size:6.72px;line-height:11px;color:#111;font-weight:bold;text-align:left;-webkit-text-stroke:0.2px #111;">Client :</div>
<div class="t" style="left:698px;top:587px;font-size:6.72px;line-height:11px;color:#111;font-weight:bold;text-align:left;-webkit-text-stroke:0.2px #111;">P.O. No. :</div>
<div class="t" style="left:697px;top:602px;font-size:6.72px;line-height:11px;color:#111;font-weight:bold;text-align:left;-webkit-text-stroke:0.2px #111;">W.O. No. :</div>
<div class="t" style="left:697px;top:617px;font-size:6.72px;line-height:11px;color:#111;font-weight:bold;text-align:left;-webkit-text-stroke:0.2px #111;">Dimension Std. :</div>
<div class="t" style="left:778.6px;top:557px;font-size:6.72px;line-height:11px;color:#111;font-weight:bold;text-align:left;-webkit-text-stroke:0.2px #111;">TCM/00003/22-23</div>
<div class="t" style="left:778.6px;top:587px;font-size:6.72px;line-height:11px;color:#111;font-weight:bold;text-align:left;-webkit-text-stroke:0.2px #111;">VB/PO/765/22-23</div>
<div class="t" style="left:778.6px;top:602px;font-size:6.72px;line-height:11px;color:#111;font-weight:bold;text-align:left;-webkit-text-stroke:0.2px #111;">WOUT/00003/22-23</div>
<div class="t" style="left:778.6px;top:617px;font-size:6.72px;line-height:11px;color:#111;font-weight:bold;text-align:left;-webkit-text-stroke:0.2px #111;">ASME B16.48</div>
<div class="t" style="left:977.2px;top:556px;font-size:6.72px;line-height:11px;color:#111;font-weight:bold;text-align:left;-webkit-text-stroke:0.2px #111;">Date</div>
<div class="t" style="left:1007px;top:556px;font-size:6.72px;line-height:11px;color:#111;font-weight:bold;text-align:left;-webkit-text-stroke:0.2px #111;">:</div>
<div class="t" style="left:977.2px;top:571px;font-size:6.72px;line-height:11px;color:#111;font-weight:bold;text-align:left;-webkit-text-stroke:0.2px #111;">P.O.Dt. :</div>
<div class="t" style="left:976.6px;top:586px;font-size:6.72px;line-height:11px;color:#111;font-weight:bold;text-align:left;-webkit-text-stroke:0.2px #111;">Inspn:</div>
<div class="t" style="left:977.2px;top:601px;font-size:6.72px;line-height:11px;color:#111;font-weight:bold;text-align:left;-webkit-text-stroke:0.2px #111;">Order Status :</div>
<div class="t" style="left:485.2px;top:603px;font-size:6.72px;line-height:11px;color:#111;font-weight:bold;text-align:left;-webkit-text-stroke:0.2px #111;">Phone :</div>
<div class="t" style="left:514px;top:603px;font-size:6.2px;line-height:11px;color:#111;font-weight:bold;text-align:left;letter-spacing:0.25px;-webkit-text-stroke:0.3px #111;">6514775285</div>
<div class="t" style="left:485.2px;top:616px;font-size:6.72px;line-height:11px;color:#111;font-weight:bold;text-align:left;-webkit-text-stroke:0.2px #111;">E-mail :</div>
<div class="t" style="left:487.6px;top:637px;font-size:6.79px;line-height:11px;color:#222;font-weight:normal;text-align:left;-webkit-text-stroke:0.1px #222;">We hereby offer that the following items are ready for Test Coupon Markings against the above Purchase Order</div>
<div style="left:483px;top:647.85px;width:540px;height:1.7px;background:#4a4a4a;"></div>
<div style="left:483px;top:673.6px;width:540px;height:0.8px;background:#4a4a4a;"></div>
<div style="left:483px;top:696.5px;width:540px;height:0.8px;background:#4a4a4a;"></div>
<div style="left:511.1px;top:649px;width:0.8px;height:66px;background:#555;"></div>
<div style="left:557.0px;top:649px;width:0.8px;height:66px;background:#555;"></div>
<div style="left:734.1px;top:649px;width:0.8px;height:66px;background:#555;"></div>
<div style="left:799.9px;top:649px;width:0.8px;height:66px;background:#555;"></div>
<div style="left:846.6px;top:649px;width:0.8px;height:66px;background:#555;"></div>
<div style="left:892.2px;top:649px;width:0.8px;height:66px;background:#555;"></div>
<div style="left:930.9px;top:649px;width:0.8px;height:66px;background:#555;"></div>
<div style="left:983.9px;top:649px;width:0.8px;height:66px;background:#555;"></div>
<div style="left:1022.05px;top:649px;width:0.9px;height:66px;background:#555;"></div>
<div class="t" style="left:473px;top:656px;width:48.5px;font-size:6.75px;line-height:11px;color:#111;font-weight:bold;text-align:center;-webkit-text-stroke:0.2px #111;">S No.</div>
<div class="t" style="left:501.5px;top:653px;width:65.89999999999998px;font-size:6.75px;line-height:11px;color:#111;font-weight:bold;text-align:center;-webkit-text-stroke:0.2px #111;">P.O. Item No.</div>
<div class="t" style="left:547.4px;top:656px;width:197.10000000000002px;font-size:6.75px;line-height:11px;color:#111;font-weight:bold;text-align:center;-webkit-text-stroke:0.2px #111;">Description</div>
<div class="t" style="left:724.5px;top:656px;width:85.79999999999995px;font-size:6.75px;line-height:11px;color:#111;font-weight:bold;text-align:center;-webkit-text-stroke:0.2px #111;">Forging Spec.</div>
<div class="t" style="left:790.3px;top:656px;width:66.70000000000005px;font-size:6.75px;line-height:11px;color:#111;font-weight:bold;text-align:center;-webkit-text-stroke:0.2px #111;">Qty.(Nos)</div>
<div class="t" style="left:837px;top:656px;width:65.60000000000002px;font-size:6.75px;line-height:11px;color:#111;font-weight:bold;text-align:center;-webkit-text-stroke:0.2px #111;">Group No.</div>
<div class="t" style="left:882.6px;top:656px;width:58.69999999999993px;font-size:6.75px;line-height:11px;color:#111;font-weight:bold;text-align:center;-webkit-text-stroke:0.2px #111;">Cast NO.</div>
<div class="t" style="left:921.3px;top:653px;width:73.0px;font-size:6.75px;line-height:11px;color:#111;font-weight:bold;text-align:center;-webkit-text-stroke:0.2px #111;">Heat Treatment</div>
<div class="t" style="left:974.3px;top:652px;width:58.700000000000045px;font-size:6.75px;line-height:11px;color:#111;font-weight:bold;text-align:center;-webkit-text-stroke:0.2px #111;">Soaking</div>
<div class="t" style="left:974.3px;top:660px;width:58.700000000000045px;font-size:6.75px;line-height:11px;color:#111;font-weight:bold;text-align:center;-webkit-text-stroke:0.2px #111;">Time</div>
<div class="t" style="left:473px;top:680px;width:48.5px;font-size:6.78px;line-height:11px;color:#222;font-weight:normal;text-align:center;-webkit-text-stroke:0.12px #222;">1</div>
<div class="t" style="left:501.5px;top:680px;width:65.89999999999998px;font-size:6.78px;line-height:11px;color:#222;font-weight:normal;text-align:center;-webkit-text-stroke:0.12px #222;">PO9807</div>
<div class="t" style="left:547.4px;top:676px;width:197.10000000000002px;font-size:6.78px;line-height:11px;color:#222;font-weight:normal;text-align:center;-webkit-text-stroke:0.12px #222;">0.5IN 300UOS WNRF Sch 160 125-250AARH ASME</div>
<div class="t" style="left:547.4px;top:684px;width:197.10000000000002px;font-size:6.78px;line-height:11px;color:#222;font-weight:normal;text-align:center;-webkit-text-stroke:0.12px #222;">B16.48</div>
<div class="t" style="left:724.5px;top:680px;width:85.79999999999995px;font-size:6.78px;line-height:11px;color:#222;font-weight:normal;text-align:center;-webkit-text-stroke:0.12px #222;">SA105</div>
<div class="t" style="left:790.3px;top:680px;width:66.70000000000005px;font-size:6.78px;line-height:11px;color:#222;font-weight:normal;text-align:center;-webkit-text-stroke:0.12px #222;">12.0</div>
<div class="t" style="left:837px;top:680px;width:65.60000000000002px;font-size:6.78px;line-height:11px;color:#222;font-weight:normal;text-align:center;-webkit-text-stroke:0.12px #222;">B484A5</div>
<div class="t" style="left:882.6px;top:680px;width:58.69999999999993px;font-size:6.78px;line-height:11px;color:#222;font-weight:normal;text-align:center;-webkit-text-stroke:0.12px #222;">14K070</div>
<div class="t" style="left:921.3px;top:680px;width:73.0px;font-size:6.78px;line-height:11px;color:#222;font-weight:normal;text-align:center;-webkit-text-stroke:0.12px #222;">Normalised</div>
<div class="t" style="left:974.3px;top:680px;width:58.700000000000045px;font-size:6.78px;line-height:11px;color:#222;font-weight:normal;text-align:center;-webkit-text-stroke:0.12px #222;">2.5 - 3.5</div>
<div class="t" style="left:473px;top:703px;width:48.5px;font-size:6.78px;line-height:11px;color:#222;font-weight:normal;text-align:center;-webkit-text-stroke:0.12px #222;">2</div>
<div class="t" style="left:501.5px;top:703px;width:65.89999999999998px;font-size:6.78px;line-height:11px;color:#222;font-weight:normal;text-align:center;-webkit-text-stroke:0.12px #222;">PO9807</div>
<div class="t" style="left:547.4px;top:699px;width:197.10000000000002px;font-size:6.78px;line-height:11px;color:#222;font-weight:normal;text-align:center;-webkit-text-stroke:0.12px #222;">0.5IN 300UOS WNRF Sch 160 125-250AARH ASME</div>
<div class="t" style="left:547.4px;top:707px;width:197.10000000000002px;font-size:6.78px;line-height:11px;color:#222;font-weight:normal;text-align:center;-webkit-text-stroke:0.12px #222;">B16.48</div>
<div class="t" style="left:724.5px;top:703px;width:85.79999999999995px;font-size:6.78px;line-height:11px;color:#222;font-weight:normal;text-align:center;-webkit-text-stroke:0.12px #222;">SA105</div>
<div class="t" style="left:790.3px;top:703px;width:66.70000000000005px;font-size:6.78px;line-height:11px;color:#222;font-weight:normal;text-align:center;-webkit-text-stroke:0.12px #222;">12.0</div>
<div class="t" style="left:837px;top:703px;width:65.60000000000002px;font-size:6.78px;line-height:11px;color:#222;font-weight:normal;text-align:center;-webkit-text-stroke:0.12px #222;">B484A4</div>
<div class="t" style="left:882.6px;top:703px;width:58.69999999999993px;font-size:6.78px;line-height:11px;color:#222;font-weight:normal;text-align:center;-webkit-text-stroke:0.12px #222;">14J060</div>
<div class="t" style="left:921.3px;top:703px;width:73.0px;font-size:6.78px;line-height:11px;color:#222;font-weight:normal;text-align:center;-webkit-text-stroke:0.12px #222;">Normalised</div>
<div class="t" style="left:974.3px;top:703px;width:58.700000000000045px;font-size:6.78px;line-height:11px;color:#222;font-weight:normal;text-align:center;-webkit-text-stroke:0.12px #222;">2.5 - 3.5</div>
</div>
</body></html>
